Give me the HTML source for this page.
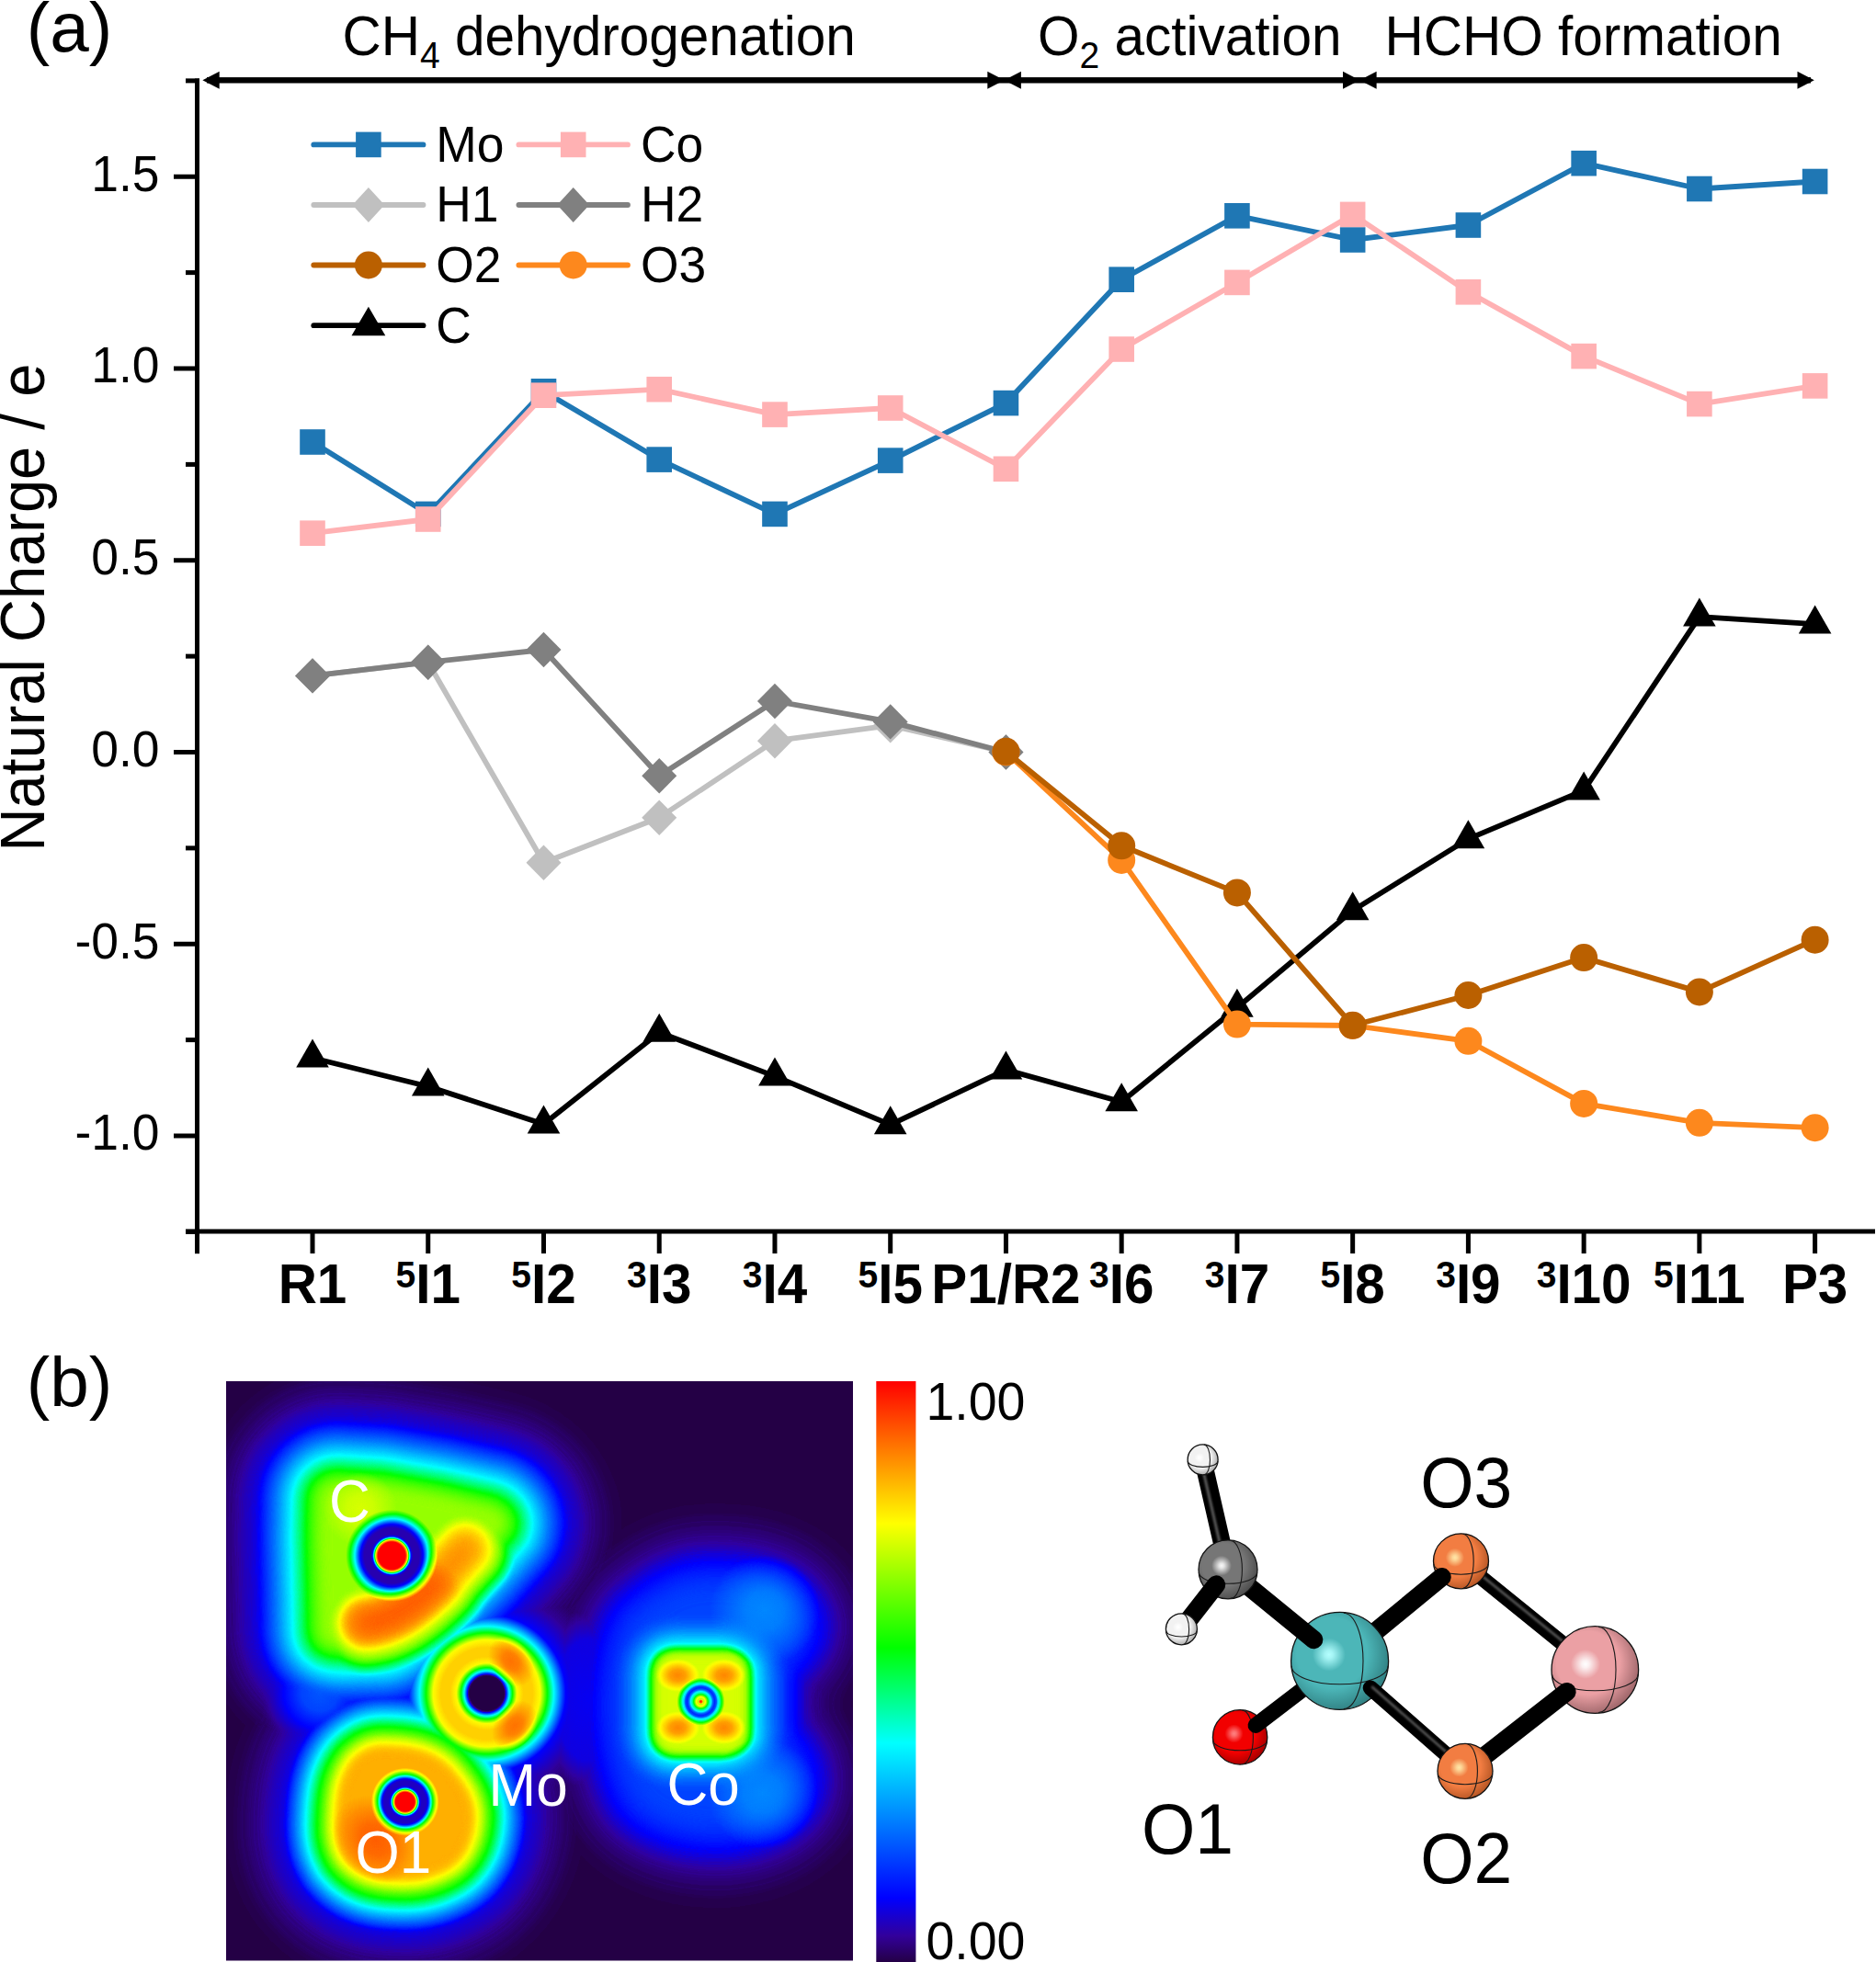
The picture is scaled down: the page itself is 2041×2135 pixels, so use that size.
<!DOCTYPE html>
<html><head><meta charset="utf-8"><style>
html,body{margin:0;padding:0;background:#fff;}
svg{display:block;}
text{font-family:"Liberation Sans", sans-serif;}
</style></head><body>
<svg width="2041" height="2135" viewBox="0 0 2041 2135" font-family='"Liberation Sans", sans-serif'>
<text y="55.5" x="28.7" font-size="76.5">(a)</text>
<text transform="translate(372.5,59.5) scale(1,1.04)" font-size="58.5">CH<tspan font-size="39" dy="13.5">4</tspan><tspan dy="-13.5"> dehydrogenation</tspan></text>
<text transform="translate(1129,59.5) scale(1,1.04)" font-size="58.5">O<tspan font-size="39" dy="13.5">2</tspan><tspan dy="-13.5"> activation</tspan></text>
<text transform="translate(1506.5,59.5) scale(1,1.04)" font-size="58.5">HCHO formation</text>
<rect x="225" y="84.10" width="1745" height="6.4" fill="#000"/>
<polygon points="220.4,87.3 238.7,77.85 238.7,96.75" fill="#000"/>
<polygon points="1092.6,87.3 1074.3,77.85 1074.3,96.75" fill="#000"/>
<polygon points="1092.6,87.3 1110.9,77.85 1110.9,96.75" fill="#000"/>
<polygon points="1479.3,87.3 1461.0,77.85 1461.0,96.75" fill="#000"/>
<polygon points="1479.3,87.3 1497.6,77.85 1497.6,96.75" fill="#000"/>
<polygon points="1973.8,87.3 1955.5,77.85 1955.5,96.75" fill="#000"/>
<rect x="212" y="85.2" width="5" height="1279" fill="#000"/>
<rect x="202" y="1337.5" width="1838" height="5" fill="#000"/>
<rect x="202" y="1337.88" width="10" height="5" fill="#000"/>
<rect x="189" y="1233.50" width="23" height="5" fill="#000"/>
<text transform="translate(173.5,1251.40) scale(1,1.04)" font-size="53.4" text-anchor="end">-1.0</text>
<rect x="202" y="1129.12" width="10" height="5" fill="#000"/>
<rect x="189" y="1024.75" width="23" height="5" fill="#000"/>
<text transform="translate(173.5,1042.65) scale(1,1.04)" font-size="53.4" text-anchor="end">-0.5</text>
<rect x="202" y="920.38" width="10" height="5" fill="#000"/>
<rect x="189" y="816.00" width="23" height="5" fill="#000"/>
<text transform="translate(173.5,833.90) scale(1,1.04)" font-size="53.4" text-anchor="end">0.0</text>
<rect x="202" y="711.62" width="10" height="5" fill="#000"/>
<rect x="189" y="607.25" width="23" height="5" fill="#000"/>
<text transform="translate(173.5,625.15) scale(1,1.04)" font-size="53.4" text-anchor="end">0.5</text>
<rect x="202" y="502.88" width="10" height="5" fill="#000"/>
<rect x="189" y="398.50" width="23" height="5" fill="#000"/>
<text transform="translate(173.5,416.40) scale(1,1.04)" font-size="53.4" text-anchor="end">1.0</text>
<rect x="202" y="294.12" width="10" height="5" fill="#000"/>
<rect x="189" y="189.75" width="23" height="5" fill="#000"/>
<text transform="translate(173.5,207.65) scale(1,1.04)" font-size="53.4" text-anchor="end">1.5</text>
<rect x="202" y="85.38" width="10" height="5" fill="#000"/>
<rect x="337.50" y="1340" width="5" height="24" fill="#000"/>
<rect x="463.24" y="1340" width="5" height="24" fill="#000"/>
<rect x="588.98" y="1340" width="5" height="24" fill="#000"/>
<rect x="714.72" y="1340" width="5" height="24" fill="#000"/>
<rect x="840.46" y="1340" width="5" height="24" fill="#000"/>
<rect x="966.20" y="1340" width="5" height="24" fill="#000"/>
<rect x="1091.94" y="1340" width="5" height="24" fill="#000"/>
<rect x="1217.68" y="1340" width="5" height="24" fill="#000"/>
<rect x="1343.42" y="1340" width="5" height="24" fill="#000"/>
<rect x="1469.16" y="1340" width="5" height="24" fill="#000"/>
<rect x="1594.90" y="1340" width="5" height="24" fill="#000"/>
<rect x="1720.64" y="1340" width="5" height="24" fill="#000"/>
<rect x="1846.38" y="1340" width="5" height="24" fill="#000"/>
<rect x="1972.12" y="1340" width="5" height="24" fill="#000"/>
<text transform="translate(340.00,1418) scale(1,1.04)" font-size="58.4" font-weight="bold" text-anchor="middle">R1</text>
<text transform="translate(465.74,1418) scale(1,1.04)" font-size="58.4" font-weight="bold" text-anchor="middle"><tspan font-size="39" dy="-16.6">5</tspan><tspan dy="16.6">I1</tspan></text>
<text transform="translate(591.48,1418) scale(1,1.04)" font-size="58.4" font-weight="bold" text-anchor="middle"><tspan font-size="39" dy="-16.6">5</tspan><tspan dy="16.6">I2</tspan></text>
<text transform="translate(717.22,1418) scale(1,1.04)" font-size="58.4" font-weight="bold" text-anchor="middle"><tspan font-size="39" dy="-16.6">3</tspan><tspan dy="16.6">I3</tspan></text>
<text transform="translate(842.96,1418) scale(1,1.04)" font-size="58.4" font-weight="bold" text-anchor="middle"><tspan font-size="39" dy="-16.6">3</tspan><tspan dy="16.6">I4</tspan></text>
<text transform="translate(968.70,1418) scale(1,1.04)" font-size="58.4" font-weight="bold" text-anchor="middle"><tspan font-size="39" dy="-16.6">5</tspan><tspan dy="16.6">I5</tspan></text>
<text transform="translate(1094.44,1418) scale(1,1.04)" font-size="58.4" font-weight="bold" text-anchor="middle">P1/R2</text>
<text transform="translate(1220.18,1418) scale(1,1.04)" font-size="58.4" font-weight="bold" text-anchor="middle"><tspan font-size="39" dy="-16.6">3</tspan><tspan dy="16.6">I6</tspan></text>
<text transform="translate(1345.92,1418) scale(1,1.04)" font-size="58.4" font-weight="bold" text-anchor="middle"><tspan font-size="39" dy="-16.6">3</tspan><tspan dy="16.6">I7</tspan></text>
<text transform="translate(1471.66,1418) scale(1,1.04)" font-size="58.4" font-weight="bold" text-anchor="middle"><tspan font-size="39" dy="-16.6">5</tspan><tspan dy="16.6">I8</tspan></text>
<text transform="translate(1597.40,1418) scale(1,1.04)" font-size="58.4" font-weight="bold" text-anchor="middle"><tspan font-size="39" dy="-16.6">3</tspan><tspan dy="16.6">I9</tspan></text>
<text transform="translate(1723.14,1418) scale(1,1.04)" font-size="58.4" font-weight="bold" text-anchor="middle"><tspan font-size="39" dy="-16.6">3</tspan><tspan dy="16.6">I10</tspan></text>
<text transform="translate(1848.88,1418) scale(1,1.04)" font-size="58.4" font-weight="bold" text-anchor="middle"><tspan font-size="39" dy="-16.6">5</tspan><tspan dy="16.6">I11</tspan></text>
<text transform="translate(1974.62,1418) scale(1,1.04)" font-size="58.4" font-weight="bold" text-anchor="middle">P3</text>
<text transform="translate(48,926.5) rotate(-90) scale(1,1.04)" font-size="65">Natural Charge / e</text>
<polyline points="340.00,481.00 465.74,559.40 591.48,425.80 717.22,500.10 842.96,559.40 968.70,501.10 1094.44,438.60 1220.18,304.20 1345.92,234.80 1471.66,261.00 1597.40,245.00 1723.14,177.70 1848.88,205.50 1974.62,197.50" fill="none" stroke="#1f77b4" stroke-width="5.8" stroke-linejoin="round"/>
<rect x="326.20" y="467.20" width="27.6" height="27.6" fill="#1f77b4"/>
<rect x="451.94" y="545.60" width="27.6" height="27.6" fill="#1f77b4"/>
<rect x="577.68" y="412.00" width="27.6" height="27.6" fill="#1f77b4"/>
<rect x="703.42" y="486.30" width="27.6" height="27.6" fill="#1f77b4"/>
<rect x="829.16" y="545.60" width="27.6" height="27.6" fill="#1f77b4"/>
<rect x="954.90" y="487.30" width="27.6" height="27.6" fill="#1f77b4"/>
<rect x="1080.64" y="424.80" width="27.6" height="27.6" fill="#1f77b4"/>
<rect x="1206.38" y="290.40" width="27.6" height="27.6" fill="#1f77b4"/>
<rect x="1332.12" y="221.00" width="27.6" height="27.6" fill="#1f77b4"/>
<rect x="1457.86" y="247.20" width="27.6" height="27.6" fill="#1f77b4"/>
<rect x="1583.60" y="231.20" width="27.6" height="27.6" fill="#1f77b4"/>
<rect x="1709.34" y="163.90" width="27.6" height="27.6" fill="#1f77b4"/>
<rect x="1835.08" y="191.70" width="27.6" height="27.6" fill="#1f77b4"/>
<rect x="1960.82" y="183.70" width="27.6" height="27.6" fill="#1f77b4"/>
<polyline points="340.00,580.20 465.74,565.00 591.48,430.20 717.22,423.70 842.96,451.10 968.70,444.00 1094.44,510.30 1220.18,380.00 1345.92,307.40 1471.66,233.40 1597.40,317.80 1723.14,387.60 1848.88,439.60 1974.62,419.90" fill="none" stroke="#ffb1b3" stroke-width="5.8" stroke-linejoin="round"/>
<rect x="326.20" y="566.40" width="27.6" height="27.6" fill="#ffb1b3"/>
<rect x="451.94" y="551.20" width="27.6" height="27.6" fill="#ffb1b3"/>
<rect x="577.68" y="416.40" width="27.6" height="27.6" fill="#ffb1b3"/>
<rect x="703.42" y="409.90" width="27.6" height="27.6" fill="#ffb1b3"/>
<rect x="829.16" y="437.30" width="27.6" height="27.6" fill="#ffb1b3"/>
<rect x="954.90" y="430.20" width="27.6" height="27.6" fill="#ffb1b3"/>
<rect x="1080.64" y="496.50" width="27.6" height="27.6" fill="#ffb1b3"/>
<rect x="1206.38" y="366.20" width="27.6" height="27.6" fill="#ffb1b3"/>
<rect x="1332.12" y="293.60" width="27.6" height="27.6" fill="#ffb1b3"/>
<rect x="1457.86" y="219.60" width="27.6" height="27.6" fill="#ffb1b3"/>
<rect x="1583.60" y="304.00" width="27.6" height="27.6" fill="#ffb1b3"/>
<rect x="1709.34" y="373.80" width="27.6" height="27.6" fill="#ffb1b3"/>
<rect x="1835.08" y="425.80" width="27.6" height="27.6" fill="#ffb1b3"/>
<rect x="1960.82" y="406.10" width="27.6" height="27.6" fill="#ffb1b3"/>
<polyline points="340.00,735.40 465.74,720.70 591.48,938.70 717.22,889.70 842.96,806.20 968.70,789.40 1094.44,818.50" fill="none" stroke="#c0c0c0" stroke-width="5.8" stroke-linejoin="round"/>
<polygon points="340.00,716.20 359.00,735.40 340.00,754.60 321.00,735.40" fill="#c0c0c0"/>
<polygon points="465.74,701.50 484.74,720.70 465.74,739.90 446.74,720.70" fill="#c0c0c0"/>
<polygon points="591.48,919.50 610.48,938.70 591.48,957.90 572.48,938.70" fill="#c0c0c0"/>
<polygon points="717.22,870.50 736.22,889.70 717.22,908.90 698.22,889.70" fill="#c0c0c0"/>
<polygon points="842.96,787.00 861.96,806.20 842.96,825.40 823.96,806.20" fill="#c0c0c0"/>
<polygon points="968.70,770.20 987.70,789.40 968.70,808.60 949.70,789.40" fill="#c0c0c0"/>
<polygon points="1094.44,799.30 1113.44,818.50 1094.44,837.70 1075.44,818.50" fill="#c0c0c0"/>
<polyline points="340.00,735.40 465.74,720.70 591.48,707.00 717.22,844.20 842.96,763.00 968.70,785.40 1094.44,818.50" fill="none" stroke="#808080" stroke-width="5.8" stroke-linejoin="round"/>
<polygon points="340.00,716.20 359.00,735.40 340.00,754.60 321.00,735.40" fill="#808080"/>
<polygon points="465.74,701.50 484.74,720.70 465.74,739.90 446.74,720.70" fill="#808080"/>
<polygon points="591.48,687.80 610.48,707.00 591.48,726.20 572.48,707.00" fill="#808080"/>
<polygon points="717.22,825.00 736.22,844.20 717.22,863.40 698.22,844.20" fill="#808080"/>
<polygon points="842.96,743.80 861.96,763.00 842.96,782.20 823.96,763.00" fill="#808080"/>
<polygon points="968.70,766.20 987.70,785.40 968.70,804.60 949.70,785.40" fill="#808080"/>
<polygon points="1094.44,799.30 1113.44,818.50 1094.44,837.70 1075.44,818.50" fill="#808080"/>
<polyline points="340.00,1151.20 465.74,1182.20 591.48,1223.20 717.22,1123.50 842.96,1171.10 968.70,1223.90 1094.44,1164.10 1220.18,1199.00 1345.92,1096.40 1471.66,990.90 1597.40,912.90 1723.14,860.10 1848.88,671.10 1974.62,679.20" fill="none" stroke="#000000" stroke-width="5.8" stroke-linejoin="round"/>
<polygon points="340.00,1130.53 357.80,1161.53 322.20,1161.53" fill="#000000"/>
<polygon points="465.74,1161.53 483.54,1192.53 447.94,1192.53" fill="#000000"/>
<polygon points="591.48,1202.53 609.28,1233.53 573.68,1233.53" fill="#000000"/>
<polygon points="717.22,1102.83 735.02,1133.83 699.42,1133.83" fill="#000000"/>
<polygon points="842.96,1150.43 860.76,1181.43 825.16,1181.43" fill="#000000"/>
<polygon points="968.70,1203.23 986.50,1234.23 950.90,1234.23" fill="#000000"/>
<polygon points="1094.44,1143.43 1112.24,1174.43 1076.64,1174.43" fill="#000000"/>
<polygon points="1220.18,1178.33 1237.98,1209.33 1202.38,1209.33" fill="#000000"/>
<polygon points="1345.92,1075.73 1363.72,1106.73 1328.12,1106.73" fill="#000000"/>
<polygon points="1471.66,970.23 1489.46,1001.23 1453.86,1001.23" fill="#000000"/>
<polygon points="1597.40,892.23 1615.20,923.23 1579.60,923.23" fill="#000000"/>
<polygon points="1723.14,839.43 1740.94,870.43 1705.34,870.43" fill="#000000"/>
<polygon points="1848.88,650.43 1866.68,681.43 1831.08,681.43" fill="#000000"/>
<polygon points="1974.62,658.53 1992.42,689.53 1956.82,689.53" fill="#000000"/>
<polyline points="1094.44,818.50 1220.18,935.90 1345.92,1114.60 1471.66,1116.00 1597.40,1132.80 1723.14,1200.90 1848.88,1221.80 1974.62,1227.20" fill="none" stroke="#fd881d" stroke-width="5.8" stroke-linejoin="round"/>
<circle cx="1094.44" cy="818.50" r="15" fill="#fd881d"/>
<circle cx="1220.18" cy="935.90" r="15" fill="#fd881d"/>
<circle cx="1345.92" cy="1114.60" r="15" fill="#fd881d"/>
<circle cx="1471.66" cy="1116.00" r="15" fill="#fd881d"/>
<circle cx="1597.40" cy="1132.80" r="15" fill="#fd881d"/>
<circle cx="1723.14" cy="1200.90" r="15" fill="#fd881d"/>
<circle cx="1848.88" cy="1221.80" r="15" fill="#fd881d"/>
<circle cx="1974.62" cy="1227.20" r="15" fill="#fd881d"/>
<polyline points="1094.44,817.80 1220.18,920.30 1345.92,971.40 1471.66,1115.80 1597.40,1083.00 1723.14,1042.10 1848.88,1079.40 1974.62,1022.70" fill="none" stroke="#ba6000" stroke-width="5.8" stroke-linejoin="round"/>
<circle cx="1094.44" cy="817.80" r="15" fill="#ba6000"/>
<circle cx="1220.18" cy="920.30" r="15" fill="#ba6000"/>
<circle cx="1345.92" cy="971.40" r="15" fill="#ba6000"/>
<circle cx="1471.66" cy="1115.80" r="15" fill="#ba6000"/>
<circle cx="1597.40" cy="1083.00" r="15" fill="#ba6000"/>
<circle cx="1723.14" cy="1042.10" r="15" fill="#ba6000"/>
<circle cx="1848.88" cy="1079.40" r="15" fill="#ba6000"/>
<circle cx="1974.62" cy="1022.70" r="15" fill="#ba6000"/>
<line x1="341.29999999999995" y1="157.4" x2="460.5" y2="157.4" stroke="#1f77b4" stroke-width="5.8" stroke-linecap="round"/>
<rect x="387.1" y="143.6" width="27.6" height="27.6" fill="#1f77b4"/>
<text transform="translate(474.3,175.8) scale(1,1.04)" font-size="53.4">Mo</text>
<line x1="564.4" y1="157.4" x2="683.0" y2="157.4" stroke="#ffb1b3" stroke-width="5.8" stroke-linecap="round"/>
<rect x="609.9" y="143.6" width="27.6" height="27.6" fill="#ffb1b3"/>
<text transform="translate(697,175.8) scale(1,1.04)" font-size="53.4">Co</text>
<line x1="341.29999999999995" y1="223.0" x2="460.5" y2="223.0" stroke="#c0c0c0" stroke-width="5.8" stroke-linecap="round"/>
<polygon points="400.9,204.1 418.4,223.0 400.9,241.9 383.4,223.0" fill="#c0c0c0"/>
<text transform="translate(474.3,241.4) scale(1,1.04)" font-size="53.4">H1</text>
<line x1="564.4" y1="223.0" x2="683.0" y2="223.0" stroke="#808080" stroke-width="5.8" stroke-linecap="round"/>
<polygon points="623.7,204.1 641.2,223.0 623.7,241.9 606.2,223.0" fill="#808080"/>
<text transform="translate(697,241.4) scale(1,1.04)" font-size="53.4">H2</text>
<line x1="341.29999999999995" y1="288.5" x2="460.5" y2="288.5" stroke="#ba6000" stroke-width="5.8" stroke-linecap="round"/>
<circle cx="400.9" cy="288.5" r="15" fill="#ba6000"/>
<text transform="translate(474.3,306.9) scale(1,1.04)" font-size="53.4">O2</text>
<line x1="564.4" y1="288.5" x2="683.0" y2="288.5" stroke="#fd881d" stroke-width="5.8" stroke-linecap="round"/>
<circle cx="623.7" cy="288.5" r="15" fill="#fd881d"/>
<text transform="translate(697,306.9) scale(1,1.04)" font-size="53.4">O3</text>
<line x1="341.29999999999995" y1="354.2" x2="460.5" y2="354.2" stroke="#000000" stroke-width="5.8" stroke-linecap="round"/>
<polygon points="400.9,333.8 419.29999999999995,365.2 382.5,365.2" fill="#000"/>
<text transform="translate(474.3,372.6) scale(1,1.04)" font-size="53.4">C</text>
<text y="1530" x="28.7" font-size="76.5">(b)</text>
<defs><linearGradient id="cb" x1="0" y1="1" x2="0" y2="0">
<stop offset="0.0" stop-color="rgb(36, 0, 70)"/>
<stop offset="0.045" stop-color="rgb(50, 0, 155)"/>
<stop offset="0.11" stop-color="rgb(0, 0, 255)"/>
<stop offset="0.377" stop-color="rgb(0, 255, 255)"/>
<stop offset="0.541" stop-color="rgb(0, 255, 0)"/>
<stop offset="0.755" stop-color="rgb(255, 255, 0)"/>
<stop offset="1.0" stop-color="rgb(255, 0, 0)"/>
</linearGradient></defs>
<rect x="953.3" y="1503" width="43.1" height="632" fill="url(#cb)"/>
<text transform="translate(1007.4,1545.2) scale(1,1.04)" font-size="55.5">1.00</text>
<text transform="translate(1007.4,2132.4) scale(1,1.04)" font-size="55.5">0.00</text>
<clipPath id="hmclip"><rect x="246" y="1503" width="682" height="630.5"/></clipPath>
<g clip-path="url(#hmclip)"><g filter="url(#cm)">
<rect x="196" y="1453" width="782" height="730.5" fill="#000"/>
<g style="isolation:isolate">
<path d="M763.8,1718.9 C820.1,1716.4 862.1,1729.0 873.0,1762.6 C878.9,1787.8 853.7,1804.6 843.6,1818.9 C835.2,1834.0 832.7,1846.6 833.5,1851.6 C833.5,1863.4 841.1,1876.0 845.3,1888.6 C862.1,1909.6 872.2,1922.2 869.6,1943.2 C866.3,1968.4 836.9,1989.4 786.5,1993.6 C736.1,1995.3 694.1,1976.8 683.2,1949.9 C668.9,1918.0 663.8,1876.0 665.5,1846.6 C667.2,1800.4 677.3,1762.6 695.8,1750.8 C715.1,1734.9 736.1,1720.6 763.8,1718.9 Z" fill="rgb(4,4,4)" stroke="rgb(4,4,4)" stroke-width="136.67" stroke-linejoin="round" stroke-linecap="round" filter="url(#u13_0)" style="mix-blend-mode:lighten"/>
<path d="M763.8,1718.9 C820.1,1716.4 862.1,1729.0 873.0,1762.6 C878.9,1787.8 853.7,1804.6 843.6,1818.9 C835.2,1834.0 832.7,1846.6 833.5,1851.6 C833.5,1863.4 841.1,1876.0 845.3,1888.6 C862.1,1909.6 872.2,1922.2 869.6,1943.2 C866.3,1968.4 836.9,1989.4 786.5,1993.6 C736.1,1995.3 694.1,1976.8 683.2,1949.9 C668.9,1918.0 663.8,1876.0 665.5,1846.6 C667.2,1800.4 677.3,1762.6 695.8,1750.8 C715.1,1734.9 736.1,1720.6 763.8,1718.9 Z" fill="rgb(8,8,8)" stroke="rgb(8,8,8)" stroke-width="113.33" stroke-linejoin="round" stroke-linecap="round" filter="url(#u15_0)" style="mix-blend-mode:lighten"/>
<path d="M763.8,1718.9 C820.1,1716.4 862.1,1729.0 873.0,1762.6 C878.9,1787.8 853.7,1804.6 843.6,1818.9 C835.2,1834.0 832.7,1846.6 833.5,1851.6 C833.5,1863.4 841.1,1876.0 845.3,1888.6 C862.1,1909.6 872.2,1922.2 869.6,1943.2 C866.3,1968.4 836.9,1989.4 786.5,1993.6 C736.1,1995.3 694.1,1976.8 683.2,1949.9 C668.9,1918.0 663.8,1876.0 665.5,1846.6 C667.2,1800.4 677.3,1762.6 695.8,1750.8 C715.1,1734.9 736.1,1720.6 763.8,1718.9 Z" fill="rgb(13,13,13)" stroke="rgb(13,13,13)" stroke-width="86.15" stroke-linejoin="round" stroke-linecap="round" filter="url(#u13_0)" style="mix-blend-mode:lighten"/>
<path d="M763.8,1718.9 C820.1,1716.4 862.1,1729.0 873.0,1762.6 C878.9,1787.8 853.7,1804.6 843.6,1818.9 C835.2,1834.0 832.7,1846.6 833.5,1851.6 C833.5,1863.4 841.1,1876.0 845.3,1888.6 C862.1,1909.6 872.2,1922.2 869.6,1943.2 C866.3,1968.4 836.9,1989.4 786.5,1993.6 C736.1,1995.3 694.1,1976.8 683.2,1949.9 C668.9,1918.0 663.8,1876.0 665.5,1846.6 C667.2,1800.4 677.3,1762.6 695.8,1750.8 C715.1,1734.9 736.1,1720.6 763.8,1718.9 Z" fill="rgb(18,18,18)" stroke="rgb(18,18,18)" stroke-width="70.77" stroke-linejoin="round" stroke-linecap="round" filter="url(#u9_0)" style="mix-blend-mode:lighten"/>
<path d="M763.8,1718.9 C820.1,1716.4 862.1,1729.0 873.0,1762.6 C878.9,1787.8 853.7,1804.6 843.6,1818.9 C835.2,1834.0 832.7,1846.6 833.5,1851.6 C833.5,1863.4 841.1,1876.0 845.3,1888.6 C862.1,1909.6 872.2,1922.2 869.6,1943.2 C866.3,1968.4 836.9,1989.4 786.5,1993.6 C736.1,1995.3 694.1,1976.8 683.2,1949.9 C668.9,1918.0 663.8,1876.0 665.5,1846.6 C667.2,1800.4 677.3,1762.6 695.8,1750.8 C715.1,1734.9 736.1,1720.6 763.8,1718.9 Z" fill="rgb(23,23,23)" stroke="rgb(23,23,23)" stroke-width="55.38" stroke-linejoin="round" stroke-linecap="round" filter="url(#u9_0)" style="mix-blend-mode:lighten"/>
<path d="M763.8,1718.9 C820.1,1716.4 862.1,1729.0 873.0,1762.6 C878.9,1787.8 853.7,1804.6 843.6,1818.9 C835.2,1834.0 832.7,1846.6 833.5,1851.6 C833.5,1863.4 841.1,1876.0 845.3,1888.6 C862.1,1909.6 872.2,1922.2 869.6,1943.2 C866.3,1968.4 836.9,1989.4 786.5,1993.6 C736.1,1995.3 694.1,1976.8 683.2,1949.9 C668.9,1918.0 663.8,1876.0 665.5,1846.6 C667.2,1800.4 677.3,1762.6 695.8,1750.8 C715.1,1734.9 736.1,1720.6 763.8,1718.9 Z" fill="rgb(28,28,28)" stroke="rgb(28,28,28)" stroke-width="40.00" stroke-linejoin="round" stroke-linecap="round" filter="url(#u10_0)" style="mix-blend-mode:lighten"/>
<path d="M763.8,1718.9 C820.1,1716.4 862.1,1729.0 873.0,1762.6 C878.9,1787.8 853.7,1804.6 843.6,1818.9 C835.2,1834.0 832.7,1846.6 833.5,1851.6 C833.5,1863.4 841.1,1876.0 845.3,1888.6 C862.1,1909.6 872.2,1922.2 869.6,1943.2 C866.3,1968.4 836.9,1989.4 786.5,1993.6 C736.1,1995.3 694.1,1976.8 683.2,1949.9 C668.9,1918.0 663.8,1876.0 665.5,1846.6 C667.2,1800.4 677.3,1762.6 695.8,1750.8 C715.1,1734.9 736.1,1720.6 763.8,1718.9 Z" fill="rgb(36,36,36)" stroke="rgb(36,36,36)" stroke-width="22.86" stroke-linejoin="round" stroke-linecap="round" filter="url(#u12_0)" style="mix-blend-mode:lighten"/>
<path d="M763.8,1718.9 C820.1,1716.4 862.1,1729.0 873.0,1762.6 C878.9,1787.8 853.7,1804.6 843.6,1818.9 C835.2,1834.0 832.7,1846.6 833.5,1851.6 C833.5,1863.4 841.1,1876.0 845.3,1888.6 C862.1,1909.6 872.2,1922.2 869.6,1943.2 C866.3,1968.4 836.9,1989.4 786.5,1993.6 C736.1,1995.3 694.1,1976.8 683.2,1949.9 C668.9,1918.0 663.8,1876.0 665.5,1846.6 C667.2,1800.4 677.3,1762.6 695.8,1750.8 C715.1,1734.9 736.1,1720.6 763.8,1718.9 Z" fill="rgb(46,46,46)" filter="url(#u13_5)" style="mix-blend-mode:lighten"/>
<path d="M738,1802 L787,1802 Q809,1802 809,1824 L809,1882 Q809,1904 787,1904 L738,1904 Q716,1904 716,1882 L716,1824 Q716,1802 738,1802 Z" fill="rgb(4,4,4)" stroke="rgb(4,4,4)" stroke-width="185.00" stroke-linejoin="round" stroke-linecap="round" filter="url(#u9_0)" style="mix-blend-mode:lighten"/>
<path d="M738,1802 L787,1802 Q809,1802 809,1824 L809,1882 Q809,1904 787,1904 L738,1904 Q716,1904 716,1882 L716,1824 Q716,1802 738,1802 Z" fill="rgb(8,8,8)" stroke="rgb(8,8,8)" stroke-width="170.00" stroke-linejoin="round" stroke-linecap="round" filter="url(#u9_0)" style="mix-blend-mode:lighten"/>
<path d="M738,1802 L787,1802 Q809,1802 809,1824 L809,1882 Q809,1904 787,1904 L738,1904 Q716,1904 716,1882 L716,1824 Q716,1802 738,1802 Z" fill="rgb(13,13,13)" stroke="rgb(13,13,13)" stroke-width="150.00" stroke-linejoin="round" stroke-linecap="round" filter="url(#u8_5)" style="mix-blend-mode:lighten"/>
<path d="M738,1802 L787,1802 Q809,1802 809,1824 L809,1882 Q809,1904 787,1904 L738,1904 Q716,1904 716,1882 L716,1824 Q716,1802 738,1802 Z" fill="rgb(18,18,18)" stroke="rgb(18,18,18)" stroke-width="135.45" stroke-linejoin="round" stroke-linecap="round" filter="url(#u6_0)" style="mix-blend-mode:lighten"/>
<path d="M738,1802 L787,1802 Q809,1802 809,1824 L809,1882 Q809,1904 787,1904 L738,1904 Q716,1904 716,1882 L716,1824 Q716,1802 738,1802 Z" fill="rgb(23,23,23)" stroke="rgb(23,23,23)" stroke-width="126.36" stroke-linejoin="round" stroke-linecap="round" filter="url(#u4_5)" style="mix-blend-mode:lighten"/>
<path d="M738,1802 L787,1802 Q809,1802 809,1824 L809,1882 Q809,1904 787,1904 L738,1904 Q716,1904 716,1882 L716,1824 Q716,1802 738,1802 Z" fill="rgb(28,28,28)" stroke="rgb(28,28,28)" stroke-width="117.27" stroke-linejoin="round" stroke-linecap="round" filter="url(#u5_5)" style="mix-blend-mode:lighten"/>
<path d="M738,1802 L787,1802 Q809,1802 809,1824 L809,1882 Q809,1904 787,1904 L738,1904 Q716,1904 716,1882 L716,1824 Q716,1802 738,1802 Z" fill="rgb(36,36,36)" stroke="rgb(36,36,36)" stroke-width="103.64" stroke-linejoin="round" stroke-linecap="round" filter="url(#u7_0)" style="mix-blend-mode:lighten"/>
<path d="M738,1802 L787,1802 Q809,1802 809,1824 L809,1882 Q809,1904 787,1904 L738,1904 Q716,1904 716,1882 L716,1824 Q716,1802 738,1802 Z" fill="rgb(43,43,43)" stroke="rgb(43,43,43)" stroke-width="90.00" stroke-linejoin="round" stroke-linecap="round" filter="url(#u6_0)" style="mix-blend-mode:lighten"/>
<path d="M738,1802 L787,1802 Q809,1802 809,1824 L809,1882 Q809,1904 787,1904 L738,1904 Q716,1904 716,1882 L716,1824 Q716,1802 738,1802 Z" fill="rgb(51,51,51)" stroke="rgb(51,51,51)" stroke-width="79.80" stroke-linejoin="round" stroke-linecap="round" filter="url(#u6_0)" style="mix-blend-mode:lighten"/>
<path d="M738,1802 L787,1802 Q809,1802 809,1824 L809,1882 Q809,1904 787,1904 L738,1904 Q716,1904 716,1882 L716,1824 Q716,1802 738,1802 Z" fill="rgb(61,61,61)" stroke="rgb(61,61,61)" stroke-width="66.20" stroke-linejoin="round" stroke-linecap="round" filter="url(#u6_5)" style="mix-blend-mode:lighten"/>
<path d="M738,1802 L787,1802 Q809,1802 809,1824 L809,1882 Q809,1904 787,1904 L738,1904 Q716,1904 716,1882 L716,1824 Q716,1802 738,1802 Z" fill="rgb(71,71,71)" stroke="rgb(71,71,71)" stroke-width="53.38" stroke-linejoin="round" stroke-linecap="round" filter="url(#u6_0)" style="mix-blend-mode:lighten"/>
<path d="M738,1802 L787,1802 Q809,1802 809,1824 L809,1882 Q809,1904 787,1904 L738,1904 Q716,1904 716,1882 L716,1824 Q716,1802 738,1802 Z" fill="rgb(82,82,82)" stroke="rgb(82,82,82)" stroke-width="42.92" stroke-linejoin="round" stroke-linecap="round" filter="url(#u5_0)" style="mix-blend-mode:lighten"/>
<path d="M738,1802 L787,1802 Q809,1802 809,1824 L809,1882 Q809,1904 787,1904 L738,1904 Q716,1904 716,1882 L716,1824 Q716,1802 738,1802 Z" fill="rgb(92,92,92)" stroke="rgb(92,92,92)" stroke-width="32.45" stroke-linejoin="round" stroke-linecap="round" filter="url(#u4_0)" style="mix-blend-mode:lighten"/>
<path d="M738,1802 L787,1802 Q809,1802 809,1824 L809,1882 Q809,1904 787,1904 L738,1904 Q716,1904 716,1882 L716,1824 Q716,1802 738,1802 Z" fill="rgb(102,102,102)" stroke="rgb(102,102,102)" stroke-width="26.31" stroke-linejoin="round" stroke-linecap="round" filter="url(#u2_5)" style="mix-blend-mode:lighten"/>
<path d="M738,1802 L787,1802 Q809,1802 809,1824 L809,1882 Q809,1904 787,1904 L738,1904 Q716,1904 716,1882 L716,1824 Q716,1802 738,1802 Z" fill="rgb(112,112,112)" stroke="rgb(112,112,112)" stroke-width="23.36" stroke-linejoin="round" stroke-linecap="round" filter="url(#u1_5)" style="mix-blend-mode:lighten"/>
<path d="M738,1802 L787,1802 Q809,1802 809,1824 L809,1882 Q809,1904 787,1904 L738,1904 Q716,1904 716,1882 L716,1824 Q716,1802 738,1802 Z" fill="rgb(122,122,122)" stroke="rgb(122,122,122)" stroke-width="20.42" stroke-linejoin="round" stroke-linecap="round" filter="url(#u1_5)" style="mix-blend-mode:lighten"/>
<path d="M738,1802 L787,1802 Q809,1802 809,1824 L809,1882 Q809,1904 787,1904 L738,1904 Q716,1904 716,1882 L716,1824 Q716,1802 738,1802 Z" fill="rgb(133,133,133)" stroke="rgb(133,133,133)" stroke-width="17.47" stroke-linejoin="round" stroke-linecap="round" filter="url(#u1_5)" style="mix-blend-mode:lighten"/>
<path d="M738,1802 L787,1802 Q809,1802 809,1824 L809,1882 Q809,1904 787,1904 L738,1904 Q716,1904 716,1882 L716,1824 Q716,1802 738,1802 Z" fill="rgb(143,143,143)" stroke="rgb(143,143,143)" stroke-width="14.22" stroke-linejoin="round" stroke-linecap="round" filter="url(#u1_5)" style="mix-blend-mode:lighten"/>
<path d="M738,1802 L787,1802 Q809,1802 809,1824 L809,1882 Q809,1904 787,1904 L738,1904 Q716,1904 716,1882 L716,1824 Q716,1802 738,1802 Z" fill="rgb(153,153,153)" stroke="rgb(153,153,153)" stroke-width="10.67" stroke-linejoin="round" stroke-linecap="round" filter="url(#u2_0)" style="mix-blend-mode:lighten"/>
<path d="M738,1802 L787,1802 Q809,1802 809,1824 L809,1882 Q809,1904 787,1904 L738,1904 Q716,1904 716,1882 L716,1824 Q716,1802 738,1802 Z" fill="rgb(163,163,163)" stroke="rgb(163,163,163)" stroke-width="7.11" stroke-linejoin="round" stroke-linecap="round" filter="url(#u2_0)" style="mix-blend-mode:lighten"/>
<path d="M738,1802 L787,1802 Q809,1802 809,1824 L809,1882 Q809,1904 787,1904 L738,1904 Q716,1904 716,1882 L716,1824 Q716,1802 738,1802 Z" fill="rgb(173,173,173)" stroke="rgb(173,173,173)" stroke-width="3.56" stroke-linejoin="round" stroke-linecap="round" filter="url(#u2_0)" style="mix-blend-mode:lighten"/>
<path d="M738,1802 L787,1802 Q809,1802 809,1824 L809,1882 Q809,1904 787,1904 L738,1904 Q716,1904 716,1882 L716,1824 Q716,1802 738,1802 Z" fill="rgb(184,184,184)" filter="url(#u5_0)" style="mix-blend-mode:lighten"/>
<defs><radialGradient id="rg1" gradientUnits="userSpaceOnUse" cx="348" cy="1842" r="70"><stop offset="0.0000" stop-color="rgb(51,51,51)" stop-opacity="1"/><stop offset="0.2857" stop-color="rgb(46,46,46)" stop-opacity="1"/><stop offset="0.6429" stop-color="rgb(23,23,23)" stop-opacity="1"/><stop offset="1.0000" stop-color="rgb(0,0,0)" stop-opacity="1"/></radialGradient></defs>
<circle cx="348" cy="1842" r="70" fill="url(#rg1)" style="mix-blend-mode:lighten"/>
<path d="M345,1672 L346,1632 C347,1620 354,1612 368,1612 L415,1615 L478,1626 L530,1638 C545,1641 555,1652 549,1665 L513,1706 L471,1748 L435,1782 C428,1788 422,1791 412,1791 L374,1792 C356,1792 348,1787 347,1773 Z" fill="rgb(4,4,4)" stroke="rgb(4,4,4)" stroke-width="228.00" stroke-linejoin="round" stroke-linecap="round" filter="url(#u10_5)" style="mix-blend-mode:lighten"/>
<path d="M345,1672 L346,1632 C347,1620 354,1612 368,1612 L415,1615 L478,1626 L530,1638 C545,1641 555,1652 549,1665 L513,1706 L471,1748 L435,1782 C428,1788 422,1791 412,1791 L374,1792 C356,1792 348,1787 347,1773 Z" fill="rgb(8,8,8)" stroke="rgb(8,8,8)" stroke-width="206.00" stroke-linejoin="round" stroke-linecap="round" filter="url(#u12_0)" style="mix-blend-mode:lighten"/>
<path d="M345,1672 L346,1632 C347,1620 354,1612 368,1612 L415,1615 L478,1626 L530,1638 C545,1641 555,1652 549,1665 L513,1706 L471,1748 L435,1782 C428,1788 422,1791 412,1791 L374,1792 C356,1792 348,1787 347,1773 Z" fill="rgb(13,13,13)" stroke="rgb(13,13,13)" stroke-width="179.85" stroke-linejoin="round" stroke-linecap="round" filter="url(#u10_5)" style="mix-blend-mode:lighten"/>
<path d="M345,1672 L346,1632 C347,1620 354,1612 368,1612 L415,1615 L478,1626 L530,1638 C545,1641 555,1652 549,1665 L513,1706 L471,1748 L435,1782 C428,1788 422,1791 412,1791 L374,1792 C356,1792 348,1787 347,1773 Z" fill="rgb(18,18,18)" stroke="rgb(18,18,18)" stroke-width="163.23" stroke-linejoin="round" stroke-linecap="round" filter="url(#u8_5)" style="mix-blend-mode:lighten"/>
<path d="M345,1672 L346,1632 C347,1620 354,1612 368,1612 L415,1615 L478,1626 L530,1638 C545,1641 555,1652 549,1665 L513,1706 L471,1748 L435,1782 C428,1788 422,1791 412,1791 L374,1792 C356,1792 348,1787 347,1773 Z" fill="rgb(23,23,23)" stroke="rgb(23,23,23)" stroke-width="146.62" stroke-linejoin="round" stroke-linecap="round" filter="url(#u8_5)" style="mix-blend-mode:lighten"/>
<path d="M345,1672 L346,1632 C347,1620 354,1612 368,1612 L415,1615 L478,1626 L530,1638 C545,1641 555,1652 549,1665 L513,1706 L471,1748 L435,1782 C428,1788 422,1791 412,1791 L374,1792 C356,1792 348,1787 347,1773 Z" fill="rgb(28,28,28)" stroke="rgb(28,28,28)" stroke-width="130.00" stroke-linejoin="round" stroke-linecap="round" filter="url(#u6_0)" style="mix-blend-mode:lighten"/>
<path d="M345,1672 L346,1632 C347,1620 354,1612 368,1612 L415,1615 L478,1626 L530,1638 C545,1641 555,1652 549,1665 L513,1706 L471,1748 L435,1782 C428,1788 422,1791 412,1791 L374,1792 C356,1792 348,1787 347,1773 Z" fill="rgb(36,36,36)" stroke="rgb(36,36,36)" stroke-width="122.13" stroke-linejoin="round" stroke-linecap="round" filter="url(#u4_0)" style="mix-blend-mode:lighten"/>
<path d="M345,1672 L346,1632 C347,1620 354,1612 368,1612 L415,1615 L478,1626 L530,1638 C545,1641 555,1652 549,1665 L513,1706 L471,1748 L435,1782 C428,1788 422,1791 412,1791 L374,1792 C356,1792 348,1787 347,1773 Z" fill="rgb(43,43,43)" stroke="rgb(43,43,43)" stroke-width="114.27" stroke-linejoin="round" stroke-linecap="round" filter="url(#u4_0)" style="mix-blend-mode:lighten"/>
<path d="M345,1672 L346,1632 C347,1620 354,1612 368,1612 L415,1615 L478,1626 L530,1638 C545,1641 555,1652 549,1665 L513,1706 L471,1748 L435,1782 C428,1788 422,1791 412,1791 L374,1792 C356,1792 348,1787 347,1773 Z" fill="rgb(51,51,51)" stroke="rgb(51,51,51)" stroke-width="106.40" stroke-linejoin="round" stroke-linecap="round" filter="url(#u4_5)" style="mix-blend-mode:lighten"/>
<path d="M345,1672 L346,1632 C347,1620 354,1612 368,1612 L415,1615 L478,1626 L530,1638 C545,1641 555,1652 549,1665 L513,1706 L471,1748 L435,1782 C428,1788 422,1791 412,1791 L374,1792 C356,1792 348,1787 347,1773 Z" fill="rgb(61,61,61)" stroke="rgb(61,61,61)" stroke-width="95.92" stroke-linejoin="round" stroke-linecap="round" filter="url(#u5_0)" style="mix-blend-mode:lighten"/>
<path d="M345,1672 L346,1632 C347,1620 354,1612 368,1612 L415,1615 L478,1626 L530,1638 C545,1641 555,1652 549,1665 L513,1706 L471,1748 L435,1782 C428,1788 422,1791 412,1791 L374,1792 C356,1792 348,1787 347,1773 Z" fill="rgb(71,71,71)" stroke="rgb(71,71,71)" stroke-width="85.43" stroke-linejoin="round" stroke-linecap="round" filter="url(#u5_0)" style="mix-blend-mode:lighten"/>
<path d="M345,1672 L346,1632 C347,1620 354,1612 368,1612 L415,1615 L478,1626 L530,1638 C545,1641 555,1652 549,1665 L513,1706 L471,1748 L435,1782 C428,1788 422,1791 412,1791 L374,1792 C356,1792 348,1787 347,1773 Z" fill="rgb(82,82,82)" stroke="rgb(82,82,82)" stroke-width="74.94" stroke-linejoin="round" stroke-linecap="round" filter="url(#u5_0)" style="mix-blend-mode:lighten"/>
<path d="M345,1672 L346,1632 C347,1620 354,1612 368,1612 L415,1615 L478,1626 L530,1638 C545,1641 555,1652 549,1665 L513,1706 L471,1748 L435,1782 C428,1788 422,1791 412,1791 L374,1792 C356,1792 348,1787 347,1773 Z" fill="rgb(92,92,92)" stroke="rgb(92,92,92)" stroke-width="64.46" stroke-linejoin="round" stroke-linecap="round" filter="url(#u5_0)" style="mix-blend-mode:lighten"/>
<path d="M345,1672 L346,1632 C347,1620 354,1612 368,1612 L415,1615 L478,1626 L530,1638 C545,1641 555,1652 549,1665 L513,1706 L471,1748 L435,1782 C428,1788 422,1791 412,1791 L374,1792 C356,1792 348,1787 347,1773 Z" fill="rgb(102,102,102)" stroke="rgb(102,102,102)" stroke-width="55.20" stroke-linejoin="round" stroke-linecap="round" filter="url(#u4_5)" style="mix-blend-mode:lighten"/>
<path d="M345,1672 L346,1632 C347,1620 354,1612 368,1612 L415,1615 L478,1626 L530,1638 C545,1641 555,1652 549,1665 L513,1706 L471,1748 L435,1782 C428,1788 422,1791 412,1791 L374,1792 C356,1792 348,1787 347,1773 Z" fill="rgb(112,112,112)" stroke="rgb(112,112,112)" stroke-width="46.86" stroke-linejoin="round" stroke-linecap="round" filter="url(#u4_0)" style="mix-blend-mode:lighten"/>
<path d="M345,1672 L346,1632 C347,1620 354,1612 368,1612 L415,1615 L478,1626 L530,1638 C545,1641 555,1652 549,1665 L513,1706 L471,1748 L435,1782 C428,1788 422,1791 412,1791 L374,1792 C356,1792 348,1787 347,1773 Z" fill="rgb(122,122,122)" stroke="rgb(122,122,122)" stroke-width="38.52" stroke-linejoin="round" stroke-linecap="round" filter="url(#u4_0)" style="mix-blend-mode:lighten"/>
<path d="M345,1672 L346,1632 C347,1620 354,1612 368,1612 L415,1615 L478,1626 L530,1638 C545,1641 555,1652 549,1665 L513,1706 L471,1748 L435,1782 C428,1788 422,1791 412,1791 L374,1792 C356,1792 348,1787 347,1773 Z" fill="rgb(133,133,133)" stroke="rgb(133,133,133)" stroke-width="30.17" stroke-linejoin="round" stroke-linecap="round" filter="url(#u4_0)" style="mix-blend-mode:lighten"/>
<path d="M345,1672 L346,1632 C347,1620 354,1612 368,1612 L415,1615 L478,1626 L530,1638 C545,1641 555,1652 549,1665 L513,1706 L471,1748 L435,1782 C428,1788 422,1791 412,1791 L374,1792 C356,1792 348,1787 347,1773 Z" fill="rgb(143,143,143)" stroke="rgb(143,143,143)" stroke-width="21.84" stroke-linejoin="round" stroke-linecap="round" filter="url(#u4_0)" style="mix-blend-mode:lighten"/>
<path d="M345,1672 L346,1632 C347,1620 354,1612 368,1612 L415,1615 L478,1626 L530,1638 C545,1641 555,1652 549,1665 L513,1706 L471,1748 L435,1782 C428,1788 422,1791 412,1791 L374,1792 C356,1792 348,1787 347,1773 Z" fill="rgb(153,153,153)" stroke="rgb(153,153,153)" stroke-width="13.52" stroke-linejoin="round" stroke-linecap="round" filter="url(#u5_5)" style="mix-blend-mode:lighten"/>
<path d="M345,1672 L346,1632 C347,1620 354,1612 368,1612 L415,1615 L478,1626 L530,1638 C545,1641 555,1652 549,1665 L513,1706 L471,1748 L435,1782 C428,1788 422,1791 412,1791 L374,1792 C356,1792 348,1787 347,1773 Z" fill="rgb(170,170,170)" filter="url(#u7_0)" style="mix-blend-mode:lighten"/>
<path d="M398,1766 C425,1764 452,1745 474,1721" fill="rgb(4,4,4)" stroke="rgb(4,4,4)" stroke-width="144.67" stroke-linejoin="round" stroke-linecap="round" filter="url(#u5_5)" style="mix-blend-mode:lighten"/>
<path d="M398,1766 C425,1764 452,1745 474,1721" fill="rgb(8,8,8)" stroke="rgb(8,8,8)" stroke-width="143.33" stroke-linejoin="round" stroke-linecap="round" filter="url(#u1_0)" style="mix-blend-mode:lighten"/>
<path d="M398,1766 C425,1764 452,1745 474,1721" fill="rgb(13,13,13)" stroke="rgb(13,13,13)" stroke-width="141.56" stroke-linejoin="round" stroke-linecap="round" filter="url(#u1_0)" style="mix-blend-mode:lighten"/>
<path d="M398,1766 C425,1764 452,1745 474,1721" fill="rgb(18,18,18)" stroke="rgb(18,18,18)" stroke-width="139.78" stroke-linejoin="round" stroke-linecap="round" filter="url(#u1_0)" style="mix-blend-mode:lighten"/>
<path d="M398,1766 C425,1764 452,1745 474,1721" fill="rgb(23,23,23)" stroke="rgb(23,23,23)" stroke-width="138.00" stroke-linejoin="round" stroke-linecap="round" filter="url(#u1_0)" style="mix-blend-mode:lighten"/>
<path d="M398,1766 C425,1764 452,1745 474,1721" fill="rgb(28,28,28)" stroke="rgb(28,28,28)" stroke-width="136.22" stroke-linejoin="round" stroke-linecap="round" filter="url(#u1_0)" style="mix-blend-mode:lighten"/>
<path d="M398,1766 C425,1764 452,1745 474,1721" fill="rgb(36,36,36)" stroke="rgb(36,36,36)" stroke-width="133.56" stroke-linejoin="round" stroke-linecap="round" filter="url(#u1_5)" style="mix-blend-mode:lighten"/>
<path d="M398,1766 C425,1764 452,1745 474,1721" fill="rgb(43,43,43)" stroke="rgb(43,43,43)" stroke-width="130.89" stroke-linejoin="round" stroke-linecap="round" filter="url(#u1_5)" style="mix-blend-mode:lighten"/>
<path d="M398,1766 C425,1764 452,1745 474,1721" fill="rgb(51,51,51)" stroke="rgb(51,51,51)" stroke-width="128.22" stroke-linejoin="round" stroke-linecap="round" filter="url(#u1_5)" style="mix-blend-mode:lighten"/>
<path d="M398,1766 C425,1764 452,1745 474,1721" fill="rgb(61,61,61)" stroke="rgb(61,61,61)" stroke-width="124.67" stroke-linejoin="round" stroke-linecap="round" filter="url(#u2_0)" style="mix-blend-mode:lighten"/>
<path d="M398,1766 C425,1764 452,1745 474,1721" fill="rgb(71,71,71)" stroke="rgb(71,71,71)" stroke-width="121.11" stroke-linejoin="round" stroke-linecap="round" filter="url(#u2_0)" style="mix-blend-mode:lighten"/>
<path d="M398,1766 C425,1764 452,1745 474,1721" fill="rgb(82,82,82)" stroke="rgb(82,82,82)" stroke-width="117.56" stroke-linejoin="round" stroke-linecap="round" filter="url(#u2_0)" style="mix-blend-mode:lighten"/>
<path d="M398,1766 C425,1764 452,1745 474,1721" fill="rgb(92,92,92)" stroke="rgb(92,92,92)" stroke-width="114.00" stroke-linejoin="round" stroke-linecap="round" filter="url(#u2_0)" style="mix-blend-mode:lighten"/>
<path d="M398,1766 C425,1764 452,1745 474,1721" fill="rgb(102,102,102)" stroke="rgb(102,102,102)" stroke-width="110.44" stroke-linejoin="round" stroke-linecap="round" filter="url(#u2_0)" style="mix-blend-mode:lighten"/>
<path d="M398,1766 C425,1764 452,1745 474,1721" fill="rgb(112,112,112)" stroke="rgb(112,112,112)" stroke-width="106.89" stroke-linejoin="round" stroke-linecap="round" filter="url(#u2_0)" style="mix-blend-mode:lighten"/>
<path d="M398,1766 C425,1764 452,1745 474,1721" fill="rgb(122,122,122)" stroke="rgb(122,122,122)" stroke-width="102.09" stroke-linejoin="round" stroke-linecap="round" filter="url(#u2_5)" style="mix-blend-mode:lighten"/>
<path d="M398,1766 C425,1764 452,1745 474,1721" fill="rgb(133,133,133)" stroke="rgb(133,133,133)" stroke-width="96.88" stroke-linejoin="round" stroke-linecap="round" filter="url(#u2_5)" style="mix-blend-mode:lighten"/>
<path d="M398,1766 C425,1764 452,1745 474,1721" fill="rgb(143,143,143)" stroke="rgb(143,143,143)" stroke-width="91.67" stroke-linejoin="round" stroke-linecap="round" filter="url(#u2_5)" style="mix-blend-mode:lighten"/>
<path d="M398,1766 C425,1764 452,1745 474,1721" fill="rgb(153,153,153)" stroke="rgb(153,153,153)" stroke-width="86.47" stroke-linejoin="round" stroke-linecap="round" filter="url(#u2_5)" style="mix-blend-mode:lighten"/>
<path d="M398,1766 C425,1764 452,1745 474,1721" fill="rgb(163,163,163)" stroke="rgb(163,163,163)" stroke-width="81.26" stroke-linejoin="round" stroke-linecap="round" filter="url(#u3_0)" style="mix-blend-mode:lighten"/>
<path d="M398,1766 C425,1764 452,1745 474,1721" fill="rgb(173,173,173)" stroke="rgb(173,173,173)" stroke-width="75.00" stroke-linejoin="round" stroke-linecap="round" filter="url(#u3_5)" style="mix-blend-mode:lighten"/>
<path d="M398,1766 C425,1764 452,1745 474,1721" fill="rgb(184,184,184)" stroke="rgb(184,184,184)" stroke-width="67.00" stroke-linejoin="round" stroke-linecap="round" filter="url(#u4_0)" style="mix-blend-mode:lighten"/>
<path d="M398,1766 C425,1764 452,1745 474,1721" fill="rgb(194,194,194)" stroke="rgb(194,194,194)" stroke-width="59.04" stroke-linejoin="round" stroke-linecap="round" filter="url(#u4_0)" style="mix-blend-mode:lighten"/>
<path d="M398,1766 C425,1764 452,1745 474,1721" fill="rgb(204,204,204)" stroke="rgb(204,204,204)" stroke-width="51.36" stroke-linejoin="round" stroke-linecap="round" filter="url(#u4_0)" style="mix-blend-mode:lighten"/>
<path d="M398,1766 C425,1764 452,1745 474,1721" fill="rgb(214,214,214)" stroke="rgb(214,214,214)" stroke-width="43.68" stroke-linejoin="round" stroke-linecap="round" filter="url(#u4_0)" style="mix-blend-mode:lighten"/>
<path d="M398,1766 C425,1764 452,1745 474,1721" fill="rgb(224,224,224)" stroke="rgb(224,224,224)" stroke-width="36.00" stroke-linejoin="round" stroke-linecap="round" filter="url(#u7_0)" style="mix-blend-mode:lighten"/>
<path d="M398,1766 C425,1764 452,1745 474,1721" fill="rgb(236,236,236)" stroke="rgb(236,236,236)" stroke-width="16.00" stroke-linejoin="round" stroke-linecap="round" filter="url(#u10_0)" style="mix-blend-mode:lighten"/>
<path d="M470,1726 C488,1706 498,1694 506,1686" fill="rgb(4,4,4)" stroke="rgb(4,4,4)" stroke-width="140.67" stroke-linejoin="round" stroke-linecap="round" filter="url(#u5_5)" style="mix-blend-mode:lighten"/>
<path d="M470,1726 C488,1706 498,1694 506,1686" fill="rgb(8,8,8)" stroke="rgb(8,8,8)" stroke-width="139.33" stroke-linejoin="round" stroke-linecap="round" filter="url(#u1_0)" style="mix-blend-mode:lighten"/>
<path d="M470,1726 C488,1706 498,1694 506,1686" fill="rgb(13,13,13)" stroke="rgb(13,13,13)" stroke-width="137.56" stroke-linejoin="round" stroke-linecap="round" filter="url(#u1_0)" style="mix-blend-mode:lighten"/>
<path d="M470,1726 C488,1706 498,1694 506,1686" fill="rgb(18,18,18)" stroke="rgb(18,18,18)" stroke-width="135.78" stroke-linejoin="round" stroke-linecap="round" filter="url(#u1_0)" style="mix-blend-mode:lighten"/>
<path d="M470,1726 C488,1706 498,1694 506,1686" fill="rgb(23,23,23)" stroke="rgb(23,23,23)" stroke-width="134.00" stroke-linejoin="round" stroke-linecap="round" filter="url(#u1_0)" style="mix-blend-mode:lighten"/>
<path d="M470,1726 C488,1706 498,1694 506,1686" fill="rgb(28,28,28)" stroke="rgb(28,28,28)" stroke-width="132.22" stroke-linejoin="round" stroke-linecap="round" filter="url(#u1_0)" style="mix-blend-mode:lighten"/>
<path d="M470,1726 C488,1706 498,1694 506,1686" fill="rgb(36,36,36)" stroke="rgb(36,36,36)" stroke-width="129.56" stroke-linejoin="round" stroke-linecap="round" filter="url(#u1_5)" style="mix-blend-mode:lighten"/>
<path d="M470,1726 C488,1706 498,1694 506,1686" fill="rgb(43,43,43)" stroke="rgb(43,43,43)" stroke-width="126.89" stroke-linejoin="round" stroke-linecap="round" filter="url(#u1_5)" style="mix-blend-mode:lighten"/>
<path d="M470,1726 C488,1706 498,1694 506,1686" fill="rgb(51,51,51)" stroke="rgb(51,51,51)" stroke-width="124.22" stroke-linejoin="round" stroke-linecap="round" filter="url(#u1_5)" style="mix-blend-mode:lighten"/>
<path d="M470,1726 C488,1706 498,1694 506,1686" fill="rgb(61,61,61)" stroke="rgb(61,61,61)" stroke-width="120.67" stroke-linejoin="round" stroke-linecap="round" filter="url(#u2_0)" style="mix-blend-mode:lighten"/>
<path d="M470,1726 C488,1706 498,1694 506,1686" fill="rgb(71,71,71)" stroke="rgb(71,71,71)" stroke-width="117.11" stroke-linejoin="round" stroke-linecap="round" filter="url(#u2_0)" style="mix-blend-mode:lighten"/>
<path d="M470,1726 C488,1706 498,1694 506,1686" fill="rgb(82,82,82)" stroke="rgb(82,82,82)" stroke-width="113.56" stroke-linejoin="round" stroke-linecap="round" filter="url(#u2_0)" style="mix-blend-mode:lighten"/>
<path d="M470,1726 C488,1706 498,1694 506,1686" fill="rgb(92,92,92)" stroke="rgb(92,92,92)" stroke-width="110.00" stroke-linejoin="round" stroke-linecap="round" filter="url(#u2_0)" style="mix-blend-mode:lighten"/>
<path d="M470,1726 C488,1706 498,1694 506,1686" fill="rgb(102,102,102)" stroke="rgb(102,102,102)" stroke-width="106.44" stroke-linejoin="round" stroke-linecap="round" filter="url(#u2_0)" style="mix-blend-mode:lighten"/>
<path d="M470,1726 C488,1706 498,1694 506,1686" fill="rgb(112,112,112)" stroke="rgb(112,112,112)" stroke-width="102.89" stroke-linejoin="round" stroke-linecap="round" filter="url(#u2_0)" style="mix-blend-mode:lighten"/>
<path d="M470,1726 C488,1706 498,1694 506,1686" fill="rgb(122,122,122)" stroke="rgb(122,122,122)" stroke-width="98.09" stroke-linejoin="round" stroke-linecap="round" filter="url(#u2_5)" style="mix-blend-mode:lighten"/>
<path d="M470,1726 C488,1706 498,1694 506,1686" fill="rgb(133,133,133)" stroke="rgb(133,133,133)" stroke-width="92.88" stroke-linejoin="round" stroke-linecap="round" filter="url(#u2_5)" style="mix-blend-mode:lighten"/>
<path d="M470,1726 C488,1706 498,1694 506,1686" fill="rgb(143,143,143)" stroke="rgb(143,143,143)" stroke-width="87.67" stroke-linejoin="round" stroke-linecap="round" filter="url(#u2_5)" style="mix-blend-mode:lighten"/>
<path d="M470,1726 C488,1706 498,1694 506,1686" fill="rgb(153,153,153)" stroke="rgb(153,153,153)" stroke-width="82.47" stroke-linejoin="round" stroke-linecap="round" filter="url(#u2_5)" style="mix-blend-mode:lighten"/>
<path d="M470,1726 C488,1706 498,1694 506,1686" fill="rgb(163,163,163)" stroke="rgb(163,163,163)" stroke-width="77.26" stroke-linejoin="round" stroke-linecap="round" filter="url(#u3_0)" style="mix-blend-mode:lighten"/>
<path d="M470,1726 C488,1706 498,1694 506,1686" fill="rgb(173,173,173)" stroke="rgb(173,173,173)" stroke-width="71.00" stroke-linejoin="round" stroke-linecap="round" filter="url(#u3_5)" style="mix-blend-mode:lighten"/>
<path d="M470,1726 C488,1706 498,1694 506,1686" fill="rgb(184,184,184)" stroke="rgb(184,184,184)" stroke-width="63.00" stroke-linejoin="round" stroke-linecap="round" filter="url(#u4_0)" style="mix-blend-mode:lighten"/>
<path d="M470,1726 C488,1706 498,1694 506,1686" fill="rgb(194,194,194)" stroke="rgb(194,194,194)" stroke-width="54.59" stroke-linejoin="round" stroke-linecap="round" filter="url(#u5_0)" style="mix-blend-mode:lighten"/>
<path d="M470,1726 C488,1706 498,1694 506,1686" fill="rgb(204,204,204)" stroke="rgb(204,204,204)" stroke-width="43.29" stroke-linejoin="round" stroke-linecap="round" filter="url(#u5_5)" style="mix-blend-mode:lighten"/>
<path d="M470,1726 C488,1706 498,1694 506,1686" fill="rgb(214,214,214)" stroke="rgb(214,214,214)" stroke-width="32.00" stroke-linejoin="round" stroke-linecap="round" filter="url(#u7_5)" style="mix-blend-mode:lighten"/>
<path d="M470,1726 C488,1706 498,1694 506,1686" fill="rgb(222,222,222)" stroke="rgb(222,222,222)" stroke-width="14.00" stroke-linejoin="round" stroke-linecap="round" filter="url(#u9_0)" style="mix-blend-mode:lighten"/>
<defs><radialGradient id="rg2" gradientUnits="userSpaceOnUse" cx="529.5" cy="1842.7" r="140"><stop offset="0.0000" stop-color="rgb(0,0,0)" stop-opacity="1"/><stop offset="0.1357" stop-color="rgb(0,0,0)" stop-opacity="1"/><stop offset="0.1500" stop-color="rgb(28,28,28)" stop-opacity="1"/><stop offset="0.1750" stop-color="rgb(96,96,96)" stop-opacity="1"/><stop offset="0.2000" stop-color="rgb(138,138,138)" stop-opacity="1"/><stop offset="0.2357" stop-color="rgb(193,193,193)" stop-opacity="1"/><stop offset="0.2857" stop-color="rgb(204,204,204)" stop-opacity="1"/><stop offset="0.3571" stop-color="rgb(204,204,204)" stop-opacity="1"/><stop offset="0.4143" stop-color="rgb(193,193,193)" stop-opacity="1"/><stop offset="0.4714" stop-color="rgb(138,138,138)" stop-opacity="1"/><stop offset="0.5214" stop-color="rgb(96,96,96)" stop-opacity="1"/><stop offset="0.6143" stop-color="rgb(28,28,28)" stop-opacity="1"/><stop offset="0.7857" stop-color="rgb(11,11,11)" stop-opacity="1"/><stop offset="1.0000" stop-color="rgb(0,0,0)" stop-opacity="1"/></radialGradient></defs>
<circle cx="529.5" cy="1842.7" r="140" fill="url(#rg2)" style="mix-blend-mode:lighten"/>
<path d="M416,1903 C440,1903 470,1905 490,1928 C505,1945 513,1960 513,1978 C512,2005 500,2025 482,2033 C465,2042 450,2043 440,2043 C415,2043 392,2040 377,2020 C368,2005 368,1990 369,1975 C370,1955 372,1935 385,1918 C395,1907 405,1903 416,1903 Z" fill="rgb(4,4,4)" stroke="rgb(4,4,4)" stroke-width="222.67" stroke-linejoin="round" stroke-linecap="round" filter="url(#u11_0)" style="mix-blend-mode:lighten"/>
<path d="M416,1903 C440,1903 470,1905 490,1928 C505,1945 513,1960 513,1978 C512,2005 500,2025 482,2033 C465,2042 450,2043 440,2043 C415,2043 392,2040 377,2020 C368,2005 368,1990 369,1975 C370,1955 372,1935 385,1918 C395,1907 405,1903 416,1903 Z" fill="rgb(8,8,8)" stroke="rgb(8,8,8)" stroke-width="199.33" stroke-linejoin="round" stroke-linecap="round" filter="url(#u13_0)" style="mix-blend-mode:lighten"/>
<path d="M416,1903 C440,1903 470,1905 490,1928 C505,1945 513,1960 513,1978 C512,2005 500,2025 482,2033 C465,2042 450,2043 440,2043 C415,2043 392,2040 377,2020 C368,2005 368,1990 369,1975 C370,1955 372,1935 385,1918 C395,1907 405,1903 416,1903 Z" fill="rgb(13,13,13)" stroke="rgb(13,13,13)" stroke-width="171.54" stroke-linejoin="round" stroke-linecap="round" filter="url(#u11_5)" style="mix-blend-mode:lighten"/>
<path d="M416,1903 C440,1903 470,1905 490,1928 C505,1945 513,1960 513,1978 C512,2005 500,2025 482,2033 C465,2042 450,2043 440,2043 C415,2043 392,2040 377,2020 C368,2005 368,1990 369,1975 C370,1955 372,1935 385,1918 C395,1907 405,1903 416,1903 Z" fill="rgb(18,18,18)" stroke="rgb(18,18,18)" stroke-width="153.69" stroke-linejoin="round" stroke-linecap="round" filter="url(#u9_0)" style="mix-blend-mode:lighten"/>
<path d="M416,1903 C440,1903 470,1905 490,1928 C505,1945 513,1960 513,1978 C512,2005 500,2025 482,2033 C465,2042 450,2043 440,2043 C415,2043 392,2040 377,2020 C368,2005 368,1990 369,1975 C370,1955 372,1935 385,1918 C395,1907 405,1903 416,1903 Z" fill="rgb(23,23,23)" stroke="rgb(23,23,23)" stroke-width="135.85" stroke-linejoin="round" stroke-linecap="round" filter="url(#u9_0)" style="mix-blend-mode:lighten"/>
<path d="M416,1903 C440,1903 470,1905 490,1928 C505,1945 513,1960 513,1978 C512,2005 500,2025 482,2033 C465,2042 450,2043 440,2043 C415,2043 392,2040 377,2020 C368,2005 368,1990 369,1975 C370,1955 372,1935 385,1918 C395,1907 405,1903 416,1903 Z" fill="rgb(28,28,28)" stroke="rgb(28,28,28)" stroke-width="118.00" stroke-linejoin="round" stroke-linecap="round" filter="url(#u5_5)" style="mix-blend-mode:lighten"/>
<path d="M416,1903 C440,1903 470,1905 490,1928 C505,1945 513,1960 513,1978 C512,2005 500,2025 482,2033 C465,2042 450,2043 440,2043 C415,2043 392,2040 377,2020 C368,2005 368,1990 369,1975 C370,1955 372,1935 385,1918 C395,1907 405,1903 416,1903 Z" fill="rgb(36,36,36)" stroke="rgb(36,36,36)" stroke-width="113.06" stroke-linejoin="round" stroke-linecap="round" filter="url(#u2_5)" style="mix-blend-mode:lighten"/>
<path d="M416,1903 C440,1903 470,1905 490,1928 C505,1945 513,1960 513,1978 C512,2005 500,2025 482,2033 C465,2042 450,2043 440,2043 C415,2043 392,2040 377,2020 C368,2005 368,1990 369,1975 C370,1955 372,1935 385,1918 C395,1907 405,1903 416,1903 Z" fill="rgb(43,43,43)" stroke="rgb(43,43,43)" stroke-width="108.11" stroke-linejoin="round" stroke-linecap="round" filter="url(#u2_5)" style="mix-blend-mode:lighten"/>
<path d="M416,1903 C440,1903 470,1905 490,1928 C505,1945 513,1960 513,1978 C512,2005 500,2025 482,2033 C465,2042 450,2043 440,2043 C415,2043 392,2040 377,2020 C368,2005 368,1990 369,1975 C370,1955 372,1935 385,1918 C395,1907 405,1903 416,1903 Z" fill="rgb(51,51,51)" stroke="rgb(51,51,51)" stroke-width="103.17" stroke-linejoin="round" stroke-linecap="round" filter="url(#u3_0)" style="mix-blend-mode:lighten"/>
<path d="M416,1903 C440,1903 470,1905 490,1928 C505,1945 513,1960 513,1978 C512,2005 500,2025 482,2033 C465,2042 450,2043 440,2043 C415,2043 392,2040 377,2020 C368,2005 368,1990 369,1975 C370,1955 372,1935 385,1918 C395,1907 405,1903 416,1903 Z" fill="rgb(61,61,61)" stroke="rgb(61,61,61)" stroke-width="96.58" stroke-linejoin="round" stroke-linecap="round" filter="url(#u3_5)" style="mix-blend-mode:lighten"/>
<path d="M416,1903 C440,1903 470,1905 490,1928 C505,1945 513,1960 513,1978 C512,2005 500,2025 482,2033 C465,2042 450,2043 440,2043 C415,2043 392,2040 377,2020 C368,2005 368,1990 369,1975 C370,1955 372,1935 385,1918 C395,1907 405,1903 416,1903 Z" fill="rgb(71,71,71)" stroke="rgb(71,71,71)" stroke-width="89.99" stroke-linejoin="round" stroke-linecap="round" filter="url(#u3_5)" style="mix-blend-mode:lighten"/>
<path d="M416,1903 C440,1903 470,1905 490,1928 C505,1945 513,1960 513,1978 C512,2005 500,2025 482,2033 C465,2042 450,2043 440,2043 C415,2043 392,2040 377,2020 C368,2005 368,1990 369,1975 C370,1955 372,1935 385,1918 C395,1907 405,1903 416,1903 Z" fill="rgb(82,82,82)" stroke="rgb(82,82,82)" stroke-width="83.39" stroke-linejoin="round" stroke-linecap="round" filter="url(#u3_5)" style="mix-blend-mode:lighten"/>
<path d="M416,1903 C440,1903 470,1905 490,1928 C505,1945 513,1960 513,1978 C512,2005 500,2025 482,2033 C465,2042 450,2043 440,2043 C415,2043 392,2040 377,2020 C368,2005 368,1990 369,1975 C370,1955 372,1935 385,1918 C395,1907 405,1903 416,1903 Z" fill="rgb(92,92,92)" stroke="rgb(92,92,92)" stroke-width="76.80" stroke-linejoin="round" stroke-linecap="round" filter="url(#u3_0)" style="mix-blend-mode:lighten"/>
<path d="M416,1903 C440,1903 470,1905 490,1928 C505,1945 513,1960 513,1978 C512,2005 500,2025 482,2033 C465,2042 450,2043 440,2043 C415,2043 392,2040 377,2020 C368,2005 368,1990 369,1975 C370,1955 372,1935 385,1918 C395,1907 405,1903 416,1903 Z" fill="rgb(102,102,102)" stroke="rgb(102,102,102)" stroke-width="70.61" stroke-linejoin="round" stroke-linecap="round" filter="url(#u3_0)" style="mix-blend-mode:lighten"/>
<path d="M416,1903 C440,1903 470,1905 490,1928 C505,1945 513,1960 513,1978 C512,2005 500,2025 482,2033 C465,2042 450,2043 440,2043 C415,2043 392,2040 377,2020 C368,2005 368,1990 369,1975 C370,1955 372,1935 385,1918 C395,1907 405,1903 416,1903 Z" fill="rgb(112,112,112)" stroke="rgb(112,112,112)" stroke-width="64.72" stroke-linejoin="round" stroke-linecap="round" filter="url(#u3_0)" style="mix-blend-mode:lighten"/>
<path d="M416,1903 C440,1903 470,1905 490,1928 C505,1945 513,1960 513,1978 C512,2005 500,2025 482,2033 C465,2042 450,2043 440,2043 C415,2043 392,2040 377,2020 C368,2005 368,1990 369,1975 C370,1955 372,1935 385,1918 C395,1907 405,1903 416,1903 Z" fill="rgb(122,122,122)" stroke="rgb(122,122,122)" stroke-width="58.83" stroke-linejoin="round" stroke-linecap="round" filter="url(#u3_0)" style="mix-blend-mode:lighten"/>
<path d="M416,1903 C440,1903 470,1905 490,1928 C505,1945 513,1960 513,1978 C512,2005 500,2025 482,2033 C465,2042 450,2043 440,2043 C415,2043 392,2040 377,2020 C368,2005 368,1990 369,1975 C370,1955 372,1935 385,1918 C395,1907 405,1903 416,1903 Z" fill="rgb(133,133,133)" stroke="rgb(133,133,133)" stroke-width="52.94" stroke-linejoin="round" stroke-linecap="round" filter="url(#u3_0)" style="mix-blend-mode:lighten"/>
<path d="M416,1903 C440,1903 470,1905 490,1928 C505,1945 513,1960 513,1978 C512,2005 500,2025 482,2033 C465,2042 450,2043 440,2043 C415,2043 392,2040 377,2020 C368,2005 368,1990 369,1975 C370,1955 372,1935 385,1918 C395,1907 405,1903 416,1903 Z" fill="rgb(143,143,143)" stroke="rgb(143,143,143)" stroke-width="46.84" stroke-linejoin="round" stroke-linecap="round" filter="url(#u3_0)" style="mix-blend-mode:lighten"/>
<path d="M416,1903 C440,1903 470,1905 490,1928 C505,1945 513,1960 513,1978 C512,2005 500,2025 482,2033 C465,2042 450,2043 440,2043 C415,2043 392,2040 377,2020 C368,2005 368,1990 369,1975 C370,1955 372,1935 385,1918 C395,1907 405,1903 416,1903 Z" fill="rgb(153,153,153)" stroke="rgb(153,153,153)" stroke-width="40.51" stroke-linejoin="round" stroke-linecap="round" filter="url(#u3_0)" style="mix-blend-mode:lighten"/>
<path d="M416,1903 C440,1903 470,1905 490,1928 C505,1945 513,1960 513,1978 C512,2005 500,2025 482,2033 C465,2042 450,2043 440,2043 C415,2043 392,2040 377,2020 C368,2005 368,1990 369,1975 C370,1955 372,1935 385,1918 C395,1907 405,1903 416,1903 Z" fill="rgb(163,163,163)" stroke="rgb(163,163,163)" stroke-width="34.19" stroke-linejoin="round" stroke-linecap="round" filter="url(#u3_0)" style="mix-blend-mode:lighten"/>
<path d="M416,1903 C440,1903 470,1905 490,1928 C505,1945 513,1960 513,1978 C512,2005 500,2025 482,2033 C465,2042 450,2043 440,2043 C415,2043 392,2040 377,2020 C368,2005 368,1990 369,1975 C370,1955 372,1935 385,1918 C395,1907 405,1903 416,1903 Z" fill="rgb(173,173,173)" stroke="rgb(173,173,173)" stroke-width="27.86" stroke-linejoin="round" stroke-linecap="round" filter="url(#u3_0)" style="mix-blend-mode:lighten"/>
<path d="M416,1903 C440,1903 470,1905 490,1928 C505,1945 513,1960 513,1978 C512,2005 500,2025 482,2033 C465,2042 450,2043 440,2043 C415,2043 392,2040 377,2020 C368,2005 368,1990 369,1975 C370,1955 372,1935 385,1918 C395,1907 405,1903 416,1903 Z" fill="rgb(184,184,184)" stroke="rgb(184,184,184)" stroke-width="21.53" stroke-linejoin="round" stroke-linecap="round" filter="url(#u3_0)" style="mix-blend-mode:lighten"/>
<path d="M416,1903 C440,1903 470,1905 490,1928 C505,1945 513,1960 513,1978 C512,2005 500,2025 482,2033 C465,2042 450,2043 440,2043 C415,2043 392,2040 377,2020 C368,2005 368,1990 369,1975 C370,1955 372,1935 385,1918 C395,1907 405,1903 416,1903 Z" fill="rgb(194,194,194)" stroke="rgb(194,194,194)" stroke-width="14.93" stroke-linejoin="round" stroke-linecap="round" filter="url(#u4_0)" style="mix-blend-mode:lighten"/>
<path d="M416,1903 C440,1903 470,1905 490,1928 C505,1945 513,1960 513,1978 C512,2005 500,2025 482,2033 C465,2042 450,2043 440,2043 C415,2043 392,2040 377,2020 C368,2005 368,1990 369,1975 C370,1955 372,1935 385,1918 C395,1907 405,1903 416,1903 Z" fill="rgb(204,204,204)" stroke="rgb(204,204,204)" stroke-width="6.40" stroke-linejoin="round" stroke-linecap="round" filter="url(#u3_5)" style="mix-blend-mode:lighten"/>
<path d="M416,1903 C440,1903 470,1905 490,1928 C505,1945 513,1960 513,1978 C512,2005 500,2025 482,2033 C465,2042 450,2043 440,2043 C415,2043 392,2040 377,2020 C368,2005 368,1990 369,1975 C370,1955 372,1935 385,1918 C395,1907 405,1903 416,1903 Z" fill="rgb(212,212,212)" filter="url(#u5_0)" style="mix-blend-mode:lighten"/>
<defs><radialGradient id="rg3" gradientUnits="userSpaceOnUse" cx="640" cy="1850" r="100"><stop offset="0.0000" stop-color="rgb(26,26,26)" stop-opacity="1"/><stop offset="0.6000" stop-color="rgb(23,23,23)" stop-opacity="1"/><stop offset="1.0000" stop-color="rgb(0,0,0)" stop-opacity="1"/></radialGradient></defs>
<g transform="translate(640 1850) rotate(0) scale(0.6000 1.1000) translate(-640 -1850)"><circle cx="640" cy="1850" r="100" fill="url(#rg3)" style="mix-blend-mode:lighten"/></g>
<defs><radialGradient id="rg4" gradientUnits="userSpaceOnUse" cx="832" cy="1752" r="60"><stop offset="0.0000" stop-color="rgb(69,69,69)" stop-opacity="0.8"/><stop offset="0.3500" stop-color="rgb(69,69,69)" stop-opacity="0.68"/><stop offset="0.7000" stop-color="rgb(69,69,69)" stop-opacity="0.32000000000000006"/><stop offset="1.0000" stop-color="rgb(69,69,69)" stop-opacity="0.0"/></radialGradient></defs>
<circle cx="832" cy="1752" r="60" fill="url(#rg4)"/>
<defs><radialGradient id="rg5" gradientUnits="userSpaceOnUse" cx="830" cy="1952" r="60"><stop offset="0.0000" stop-color="rgb(69,69,69)" stop-opacity="0.8"/><stop offset="0.3500" stop-color="rgb(69,69,69)" stop-opacity="0.68"/><stop offset="0.7000" stop-color="rgb(69,69,69)" stop-opacity="0.32000000000000006"/><stop offset="1.0000" stop-color="rgb(69,69,69)" stop-opacity="0.0"/></radialGradient></defs>
<circle cx="830" cy="1952" r="60" fill="url(#rg5)"/>
<defs><radialGradient id="rg6" gradientUnits="userSpaceOnUse" cx="737.325" cy="1823.1" r="22"><stop offset="0.0000" stop-color="rgb(222,222,222)" stop-opacity="1.0"/><stop offset="0.3500" stop-color="rgb(222,222,222)" stop-opacity="0.85"/><stop offset="0.7000" stop-color="rgb(222,222,222)" stop-opacity="0.4"/><stop offset="1.0000" stop-color="rgb(222,222,222)" stop-opacity="0.0"/></radialGradient></defs>
<g transform="translate(737.325 1823.1) rotate(0) scale(1.0909 0.8182) translate(-737.325 -1823.1)"><circle cx="737.325" cy="1823.1" r="22" fill="url(#rg6)"/></g>
<defs><radialGradient id="rg7" gradientUnits="userSpaceOnUse" cx="737.325" cy="1880.1" r="22"><stop offset="0.0000" stop-color="rgb(222,222,222)" stop-opacity="1.0"/><stop offset="0.3500" stop-color="rgb(222,222,222)" stop-opacity="0.85"/><stop offset="0.7000" stop-color="rgb(222,222,222)" stop-opacity="0.4"/><stop offset="1.0000" stop-color="rgb(222,222,222)" stop-opacity="0.0"/></radialGradient></defs>
<g transform="translate(737.325 1880.1) rotate(0) scale(1.0909 0.8182) translate(-737.325 -1880.1)"><circle cx="737.325" cy="1880.1" r="22" fill="url(#rg7)"/></g>
<defs><radialGradient id="rg8" gradientUnits="userSpaceOnUse" cx="787.675" cy="1823.1" r="22"><stop offset="0.0000" stop-color="rgb(222,222,222)" stop-opacity="1.0"/><stop offset="0.3500" stop-color="rgb(222,222,222)" stop-opacity="0.85"/><stop offset="0.7000" stop-color="rgb(222,222,222)" stop-opacity="0.4"/><stop offset="1.0000" stop-color="rgb(222,222,222)" stop-opacity="0.0"/></radialGradient></defs>
<g transform="translate(787.675 1823.1) rotate(0) scale(1.0909 0.8182) translate(-787.675 -1823.1)"><circle cx="787.675" cy="1823.1" r="22" fill="url(#rg8)"/></g>
<defs><radialGradient id="rg9" gradientUnits="userSpaceOnUse" cx="787.675" cy="1880.1" r="22"><stop offset="0.0000" stop-color="rgb(222,222,222)" stop-opacity="1.0"/><stop offset="0.3500" stop-color="rgb(222,222,222)" stop-opacity="0.85"/><stop offset="0.7000" stop-color="rgb(222,222,222)" stop-opacity="0.4"/><stop offset="1.0000" stop-color="rgb(222,222,222)" stop-opacity="0.0"/></radialGradient></defs>
<g transform="translate(787.675 1880.1) rotate(0) scale(1.0909 0.8182) translate(-787.675 -1880.1)"><circle cx="787.675" cy="1880.1" r="22" fill="url(#rg9)"/></g>
<defs><radialGradient id="rg10" gradientUnits="userSpaceOnUse" cx="392" cy="1642" r="40"><stop offset="0.0000" stop-color="rgb(184,184,184)" stop-opacity="1.0"/><stop offset="0.3500" stop-color="rgb(184,184,184)" stop-opacity="0.85"/><stop offset="0.7000" stop-color="rgb(184,184,184)" stop-opacity="0.4"/><stop offset="1.0000" stop-color="rgb(184,184,184)" stop-opacity="0.0"/></radialGradient></defs>
<circle cx="392" cy="1642" r="40" fill="url(#rg10)"/>
<defs><radialGradient id="rg11" gradientUnits="userSpaceOnUse" cx="556" cy="1808" r="26"><stop offset="0.0000" stop-color="rgb(227,227,227)" stop-opacity="1.0"/><stop offset="0.3500" stop-color="rgb(227,227,227)" stop-opacity="0.85"/><stop offset="0.7000" stop-color="rgb(227,227,227)" stop-opacity="0.4"/><stop offset="1.0000" stop-color="rgb(227,227,227)" stop-opacity="0.0"/></radialGradient></defs>
<g transform="translate(556 1808) rotate(-35) scale(0.8462 1.1538) translate(-556 -1808)"><circle cx="556" cy="1808" r="26" fill="url(#rg11)"/></g>
<defs><radialGradient id="rg12" gradientUnits="userSpaceOnUse" cx="560" cy="1878" r="26"><stop offset="0.0000" stop-color="rgb(227,227,227)" stop-opacity="1.0"/><stop offset="0.3500" stop-color="rgb(227,227,227)" stop-opacity="0.85"/><stop offset="0.7000" stop-color="rgb(227,227,227)" stop-opacity="0.4"/><stop offset="1.0000" stop-color="rgb(227,227,227)" stop-opacity="0.0"/></radialGradient></defs>
<g transform="translate(560 1878) rotate(35) scale(0.8462 1.1538) translate(-560 -1878)"><circle cx="560" cy="1878" r="26" fill="url(#rg12)"/></g>
<defs><radialGradient id="rg13" gradientUnits="userSpaceOnUse" cx="408" cy="2002" r="50"><stop offset="0.0000" stop-color="rgb(232,232,232)" stop-opacity="1.0"/><stop offset="0.3500" stop-color="rgb(232,232,232)" stop-opacity="0.85"/><stop offset="0.7000" stop-color="rgb(232,232,232)" stop-opacity="0.4"/><stop offset="1.0000" stop-color="rgb(232,232,232)" stop-opacity="0.0"/></radialGradient></defs>
<g transform="translate(408 2002) rotate(50) scale(1.0400 0.8400) translate(-408 -2002)"><circle cx="408" cy="2002" r="50" fill="url(#rg13)"/></g>
</g>
<defs><radialGradient id="rg14" gradientUnits="userSpaceOnUse" cx="426.2" cy="1692.8" r="50"><stop offset="0.0000" stop-color="rgb(255,255,255)" stop-opacity="1"/><stop offset="0.3000" stop-color="rgb(255,255,255)" stop-opacity="1"/><stop offset="0.3500" stop-color="rgb(193,193,193)" stop-opacity="1"/><stop offset="0.3700" stop-color="rgb(138,138,138)" stop-opacity="1"/><stop offset="0.3900" stop-color="rgb(96,96,96)" stop-opacity="1"/><stop offset="0.4200" stop-color="rgb(28,28,28)" stop-opacity="1"/><stop offset="0.4600" stop-color="rgb(15,15,15)" stop-opacity="1"/><stop offset="0.6000" stop-color="rgb(15,15,15)" stop-opacity="1"/><stop offset="0.6800" stop-color="rgb(28,28,28)" stop-opacity="1"/><stop offset="0.8000" stop-color="rgb(15,15,15)" stop-opacity="0.49"/><stop offset="0.9000" stop-color="rgb(15,15,15)" stop-opacity="0.226"/><stop offset="1.0000" stop-color="rgb(15,15,15)" stop-opacity="0.0"/></radialGradient></defs>
<circle cx="426.2" cy="1692.8" r="50" fill="url(#rg14)"/>
<defs><radialGradient id="rg15" gradientUnits="userSpaceOnUse" cx="529.5" cy="1842.7" r="21"><stop offset="0.0000" stop-color="rgb(0,0,0)" stop-opacity="1"/><stop offset="0.8810" stop-color="rgb(0,0,0)" stop-opacity="1"/><stop offset="1.0000" stop-color="rgb(0,0,0)" stop-opacity="0.0"/></radialGradient></defs>
<circle cx="529.5" cy="1842.7" r="21" fill="url(#rg15)"/>
<defs><radialGradient id="rg16" gradientUnits="userSpaceOnUse" cx="440.7" cy="1960.7" r="37"><stop offset="0.0000" stop-color="rgb(255,255,255)" stop-opacity="1"/><stop offset="0.2838" stop-color="rgb(255,255,255)" stop-opacity="1"/><stop offset="0.3378" stop-color="rgb(193,193,193)" stop-opacity="1"/><stop offset="0.3649" stop-color="rgb(138,138,138)" stop-opacity="1"/><stop offset="0.3919" stop-color="rgb(96,96,96)" stop-opacity="1"/><stop offset="0.4324" stop-color="rgb(28,28,28)" stop-opacity="1"/><stop offset="0.4865" stop-color="rgb(18,18,18)" stop-opacity="1"/><stop offset="0.6216" stop-color="rgb(18,18,18)" stop-opacity="1"/><stop offset="0.6757" stop-color="rgb(28,28,28)" stop-opacity="1"/><stop offset="0.7568" stop-color="rgb(18,18,18)" stop-opacity="0.606"/><stop offset="0.8108" stop-color="rgb(18,18,18)" stop-opacity="0.397"/><stop offset="0.9189" stop-color="rgb(18,18,18)" stop-opacity="0.122"/><stop offset="1.0000" stop-color="rgb(18,18,18)" stop-opacity="0.0"/></radialGradient></defs>
<circle cx="440.7" cy="1960.7" r="37" fill="url(#rg16)"/>
<defs><radialGradient id="rg17" gradientUnits="userSpaceOnUse" cx="762.5" cy="1851.6" r="26"><stop offset="0.0000" stop-color="rgb(255,255,255)" stop-opacity="1"/><stop offset="0.0577" stop-color="rgb(230,230,230)" stop-opacity="1"/><stop offset="0.1154" stop-color="rgb(178,178,178)" stop-opacity="1"/><stop offset="0.1923" stop-color="rgb(193,193,193)" stop-opacity="1"/><stop offset="0.2692" stop-color="rgb(153,153,153)" stop-opacity="1"/><stop offset="0.3462" stop-color="rgb(115,115,115)" stop-opacity="1"/><stop offset="0.4231" stop-color="rgb(96,96,96)" stop-opacity="1"/><stop offset="0.5000" stop-color="rgb(56,56,56)" stop-opacity="1"/><stop offset="0.5769" stop-color="rgb(38,38,38)" stop-opacity="1"/><stop offset="0.6538" stop-color="rgb(51,51,51)" stop-opacity="1"/><stop offset="0.7115" stop-color="rgb(89,89,89)" stop-opacity="1"/><stop offset="0.7692" stop-color="rgb(41,41,41)" stop-opacity="0.57"/><stop offset="0.8846" stop-color="rgb(41,41,41)" stop-opacity="0.3"/><stop offset="1.0000" stop-color="rgb(41,41,41)" stop-opacity="0.0"/></radialGradient></defs>
<circle cx="762.5" cy="1851.6" r="26" fill="url(#rg17)"/>
</g></g>
<g fill="#fff" font-size="62">
<text transform="translate(358,1655.5) scale(1,1.04)">C</text>
<text transform="translate(531.5,1964.8) scale(1,1.04)">Mo</text>
<text transform="translate(725.5,1964.4) scale(1,1.04)">Co</text>
<text transform="translate(386.5,2037.5) scale(1,1.04)">O1</text>
</g>
<defs><radialGradient id="gMo" cx="0.42" cy="0.42" r="0.66"><stop offset="0" stop-color="#4cb6b8"/><stop offset="0.55" stop-color="#4cb6b8"/><stop offset="1" stop-color="#2a7476"/></radialGradient><radialGradient id="gMoh"><stop offset="0" stop-color="#b4ffff" stop-opacity="1"/><stop offset="0.25" stop-color="#b4ffff" stop-opacity="0.85"/><stop offset="1" stop-color="#b4ffff" stop-opacity="0"/></radialGradient><radialGradient id="gCo" cx="0.42" cy="0.42" r="0.66"><stop offset="0" stop-color="#eba0a4"/><stop offset="0.55" stop-color="#eba0a4"/><stop offset="1" stop-color="#8e5a5e"/></radialGradient><radialGradient id="gCoh"><stop offset="0" stop-color="#ffffff" stop-opacity="1"/><stop offset="0.25" stop-color="#ffffff" stop-opacity="0.85"/><stop offset="1" stop-color="#ffffff" stop-opacity="0"/></radialGradient><radialGradient id="gO" cx="0.42" cy="0.42" r="0.66"><stop offset="0" stop-color="#f27d42"/><stop offset="0.55" stop-color="#f27d42"/><stop offset="1" stop-color="#a84d1e"/></radialGradient><radialGradient id="gOh"><stop offset="0" stop-color="#ffe6a6" stop-opacity="1"/><stop offset="0.25" stop-color="#ffe6a6" stop-opacity="0.85"/><stop offset="1" stop-color="#ffe6a6" stop-opacity="0"/></radialGradient><radialGradient id="gO1" cx="0.42" cy="0.42" r="0.66"><stop offset="0" stop-color="#f20000"/><stop offset="0.55" stop-color="#f20000"/><stop offset="1" stop-color="#960000"/></radialGradient><radialGradient id="gO1h"><stop offset="0" stop-color="#ff8080" stop-opacity="1"/><stop offset="0.25" stop-color="#ff8080" stop-opacity="0.85"/><stop offset="1" stop-color="#ff8080" stop-opacity="0"/></radialGradient><radialGradient id="gC" cx="0.42" cy="0.42" r="0.66"><stop offset="0" stop-color="#767676"/><stop offset="0.55" stop-color="#767676"/><stop offset="1" stop-color="#444444"/></radialGradient><radialGradient id="gCh"><stop offset="0" stop-color="#f8f8f8" stop-opacity="1"/><stop offset="0.25" stop-color="#f8f8f8" stop-opacity="0.85"/><stop offset="1" stop-color="#f8f8f8" stop-opacity="0"/></radialGradient><radialGradient id="gH" cx="0.42" cy="0.42" r="0.66"><stop offset="0" stop-color="#f2f2f2"/><stop offset="0.55" stop-color="#f2f2f2"/><stop offset="1" stop-color="#9a9a9a"/></radialGradient><radialGradient id="gHh"><stop offset="0" stop-color="#ffffff" stop-opacity="1"/><stop offset="0.25" stop-color="#ffffff" stop-opacity="0.85"/><stop offset="1" stop-color="#ffffff" stop-opacity="0"/></radialGradient></defs>
<defs><filter id="bhl" x="-10%" y="-10%" width="120%" height="120%"><feGaussianBlur stdDeviation="1.2"/></filter></defs>
<line x1="1589.5" y1="1698.8" x2="1735.3" y2="1817.0" stroke="#000" stroke-width="16.5" stroke-linecap="round"/>
<line x1="1590.7" y1="1697.3" x2="1736.5" y2="1815.5" stroke="#5a5a5a" stroke-width="2.6" filter="url(#bhl)"/>
<line x1="1308.6" y1="1588.4" x2="1336.0" y2="1707.9" stroke="#000" stroke-width="19" stroke-linecap="round"/>
<line x1="1306.4" y1="1588.9" x2="1333.8" y2="1708.4" stroke="#5a5a5a" stroke-width="3.0" filter="url(#bhl)"/>
<circle cx="1589.5" cy="1698.8" r="30" fill="url(#gO)" stroke="#111" stroke-width="1.3"/>
<circle cx="1582.9" cy="1694.9" r="10.2" fill="url(#gOh)"/>
<path d="M1591.9,1669.2 A12.0,29.6 0 0 1 1591.9,1728.3" fill="none" stroke="#1a1a1a" stroke-width="1.1"/>
<path d="M1559.8,1701.8 A29.7,11.4 0 0 0 1619.2,1701.8" fill="none" stroke="#1a1a1a" stroke-width="1.1"/>
<circle cx="1349.1" cy="1890.4" r="29.7" fill="url(#gO1)" stroke="#111" stroke-width="1.3"/>
<circle cx="1342.6" cy="1886.5" r="10.1" fill="url(#gO1h)"/>
<path d="M1351.5,1861.1 A11.9,29.3 0 0 1 1351.5,1919.7" fill="none" stroke="#1a1a1a" stroke-width="1.1"/>
<path d="M1319.7,1893.4 A29.4,11.3 0 0 0 1378.5,1893.4" fill="none" stroke="#1a1a1a" stroke-width="1.1"/>
<circle cx="1735.3" cy="1817" r="47.3" fill="url(#gCo)" stroke="#111" stroke-width="1.3"/>
<circle cx="1724.9" cy="1810.9" r="16.1" fill="url(#gCoh)"/>
<path d="M1739.1,1770.4 A18.9,46.6 0 0 1 1739.1,1863.6" fill="none" stroke="#1a1a1a" stroke-width="1.1"/>
<path d="M1688.5,1821.7 A46.8,18.0 0 0 0 1782.1,1821.7" fill="none" stroke="#1a1a1a" stroke-width="1.1"/>
<line x1="1457.6" y1="1807.4" x2="1568.7" y2="1716.0" stroke="#000" stroke-width="20" stroke-linecap="round"/>
<line x1="1457.6" y1="1807.4" x2="1366.1" y2="1877.4" stroke="#000" stroke-width="17" stroke-linecap="round"/>
<line x1="1594.0" y1="1927.3" x2="1704.7" y2="1840.9" stroke="#000" stroke-width="20" stroke-linecap="round"/>
<circle cx="1457.6" cy="1807.4" r="53" fill="url(#gMo)" stroke="#111" stroke-width="1.3"/>
<circle cx="1445.9" cy="1800.5" r="18.0" fill="url(#gMoh)"/>
<path d="M1461.8,1755.2 A21.2,52.2 0 0 1 1461.8,1859.6" fill="none" stroke="#1a1a1a" stroke-width="1.1"/>
<path d="M1405.1,1812.7 A52.5,20.1 0 0 0 1510.1,1812.7" fill="none" stroke="#1a1a1a" stroke-width="1.1"/>
<line x1="1336.0" y1="1707.9" x2="1429.3" y2="1784.2" stroke="#000" stroke-width="20" stroke-linecap="round"/>
<line x1="1594.0" y1="1927.3" x2="1491.0" y2="1836.8" stroke="#000" stroke-width="16.5" stroke-linecap="round"/>
<line x1="1595.3" y1="1925.8" x2="1492.3" y2="1835.3" stroke="#5a5a5a" stroke-width="2.6" filter="url(#bhl)"/>
<circle cx="1336" cy="1707.9" r="32" fill="url(#gC)" stroke="#111" stroke-width="1.3"/>
<circle cx="1329.0" cy="1703.7" r="10.9" fill="url(#gCh)"/>
<path d="M1338.6,1676.4 A12.8,31.5 0 0 1 1338.6,1739.4" fill="none" stroke="#1a1a1a" stroke-width="1.1"/>
<path d="M1304.3,1711.1 A31.7,12.2 0 0 0 1367.7,1711.1" fill="none" stroke="#1a1a1a" stroke-width="1.1"/>
<circle cx="1594" cy="1927.3" r="30" fill="url(#gO)" stroke="#111" stroke-width="1.3"/>
<circle cx="1587.4" cy="1923.4" r="10.2" fill="url(#gOh)"/>
<path d="M1596.4,1897.8 A12.0,29.6 0 0 1 1596.4,1956.8" fill="none" stroke="#1a1a1a" stroke-width="1.1"/>
<path d="M1564.3,1930.3 A29.7,11.4 0 0 0 1623.7,1930.3" fill="none" stroke="#1a1a1a" stroke-width="1.1"/>
<circle cx="1308.6" cy="1588.4" r="16.5" fill="url(#gH)" stroke="#111" stroke-width="1.3"/>
<circle cx="1305.0" cy="1586.3" r="5.6" fill="url(#gHh)"/>
<path d="M1309.9,1572.1 A6.6,16.3 0 0 1 1309.9,1604.7" fill="none" stroke="#1a1a1a" stroke-width="1.1"/>
<path d="M1292.3,1590.1 A16.3,6.3 0 0 0 1324.9,1590.1" fill="none" stroke="#1a1a1a" stroke-width="1.1"/>
<line x1="1285.4" y1="1772.8" x2="1323.2" y2="1724.3" stroke="#000" stroke-width="20" stroke-linecap="round"/>
<circle cx="1285.4" cy="1772.8" r="17" fill="url(#gH)" stroke="#111" stroke-width="1.3"/>
<circle cx="1281.7" cy="1770.6" r="5.8" fill="url(#gHh)"/>
<path d="M1286.8,1756.1 A6.8,16.7 0 0 1 1286.8,1789.5" fill="none" stroke="#1a1a1a" stroke-width="1.1"/>
<path d="M1268.6,1774.5 A16.8,6.5 0 0 0 1302.2,1774.5" fill="none" stroke="#1a1a1a" stroke-width="1.1"/>
<text transform="translate(1242,2016.9) scale(1,1.04)" font-size="75">O1</text>
<text transform="translate(1545.2,2048.6) scale(1,1.04)" font-size="75">O2</text>
<text transform="translate(1545.2,1639.8) scale(1,1.04)" font-size="75">O3</text>
<defs><filter id="b1" x="-100%" y="-100%" width="300%" height="300%" color-interpolation-filters="sRGB"><feGaussianBlur stdDeviation="1"/></filter><filter id="b2" x="-100%" y="-100%" width="300%" height="300%" color-interpolation-filters="sRGB"><feGaussianBlur stdDeviation="2"/></filter><filter id="b3" x="-100%" y="-100%" width="300%" height="300%" color-interpolation-filters="sRGB"><feGaussianBlur stdDeviation="3"/></filter><filter id="b4" x="-100%" y="-100%" width="300%" height="300%" color-interpolation-filters="sRGB"><feGaussianBlur stdDeviation="4"/></filter><filter id="b5" x="-100%" y="-100%" width="300%" height="300%" color-interpolation-filters="sRGB"><feGaussianBlur stdDeviation="5"/></filter><filter id="b6" x="-100%" y="-100%" width="300%" height="300%" color-interpolation-filters="sRGB"><feGaussianBlur stdDeviation="6"/></filter><filter id="b8" x="-100%" y="-100%" width="300%" height="300%" color-interpolation-filters="sRGB"><feGaussianBlur stdDeviation="8"/></filter><filter id="b10" x="-100%" y="-100%" width="300%" height="300%" color-interpolation-filters="sRGB"><feGaussianBlur stdDeviation="10"/></filter><filter id="b12" x="-100%" y="-100%" width="300%" height="300%" color-interpolation-filters="sRGB"><feGaussianBlur stdDeviation="12"/></filter><filter id="b15" x="-100%" y="-100%" width="300%" height="300%" color-interpolation-filters="sRGB"><feGaussianBlur stdDeviation="15"/></filter><filter id="b18" x="-100%" y="-100%" width="300%" height="300%" color-interpolation-filters="sRGB"><feGaussianBlur stdDeviation="18"/></filter><filter id="b20" x="-100%" y="-100%" width="300%" height="300%" color-interpolation-filters="sRGB"><feGaussianBlur stdDeviation="20"/></filter><filter id="b25" x="-100%" y="-100%" width="300%" height="300%" color-interpolation-filters="sRGB"><feGaussianBlur stdDeviation="25"/></filter><filter id="b30" x="-100%" y="-100%" width="300%" height="300%" color-interpolation-filters="sRGB"><feGaussianBlur stdDeviation="30"/></filter><filter id="b40" x="-100%" y="-100%" width="300%" height="300%" color-interpolation-filters="sRGB"><feGaussianBlur stdDeviation="40"/></filter><filter id="u13_0" filterUnits="userSpaceOnUse" x="150" y="1400" width="900" height="850" color-interpolation-filters="sRGB"><feGaussianBlur stdDeviation="13.0"/></filter><filter id="u15_0" filterUnits="userSpaceOnUse" x="150" y="1400" width="900" height="850" color-interpolation-filters="sRGB"><feGaussianBlur stdDeviation="15.0"/></filter><filter id="u9_0" filterUnits="userSpaceOnUse" x="150" y="1400" width="900" height="850" color-interpolation-filters="sRGB"><feGaussianBlur stdDeviation="9.0"/></filter><filter id="u10_0" filterUnits="userSpaceOnUse" x="150" y="1400" width="900" height="850" color-interpolation-filters="sRGB"><feGaussianBlur stdDeviation="10.0"/></filter><filter id="u12_0" filterUnits="userSpaceOnUse" x="150" y="1400" width="900" height="850" color-interpolation-filters="sRGB"><feGaussianBlur stdDeviation="12.0"/></filter><filter id="u13_5" filterUnits="userSpaceOnUse" x="150" y="1400" width="900" height="850" color-interpolation-filters="sRGB"><feGaussianBlur stdDeviation="13.5"/></filter><filter id="u8_5" filterUnits="userSpaceOnUse" x="150" y="1400" width="900" height="850" color-interpolation-filters="sRGB"><feGaussianBlur stdDeviation="8.5"/></filter><filter id="u6_0" filterUnits="userSpaceOnUse" x="150" y="1400" width="900" height="850" color-interpolation-filters="sRGB"><feGaussianBlur stdDeviation="6.0"/></filter><filter id="u4_5" filterUnits="userSpaceOnUse" x="150" y="1400" width="900" height="850" color-interpolation-filters="sRGB"><feGaussianBlur stdDeviation="4.5"/></filter><filter id="u5_5" filterUnits="userSpaceOnUse" x="150" y="1400" width="900" height="850" color-interpolation-filters="sRGB"><feGaussianBlur stdDeviation="5.5"/></filter><filter id="u7_0" filterUnits="userSpaceOnUse" x="150" y="1400" width="900" height="850" color-interpolation-filters="sRGB"><feGaussianBlur stdDeviation="7.0"/></filter><filter id="u6_5" filterUnits="userSpaceOnUse" x="150" y="1400" width="900" height="850" color-interpolation-filters="sRGB"><feGaussianBlur stdDeviation="6.5"/></filter><filter id="u5_0" filterUnits="userSpaceOnUse" x="150" y="1400" width="900" height="850" color-interpolation-filters="sRGB"><feGaussianBlur stdDeviation="5.0"/></filter><filter id="u4_0" filterUnits="userSpaceOnUse" x="150" y="1400" width="900" height="850" color-interpolation-filters="sRGB"><feGaussianBlur stdDeviation="4.0"/></filter><filter id="u2_5" filterUnits="userSpaceOnUse" x="150" y="1400" width="900" height="850" color-interpolation-filters="sRGB"><feGaussianBlur stdDeviation="2.5"/></filter><filter id="u1_5" filterUnits="userSpaceOnUse" x="150" y="1400" width="900" height="850" color-interpolation-filters="sRGB"><feGaussianBlur stdDeviation="1.5"/></filter><filter id="u2_0" filterUnits="userSpaceOnUse" x="150" y="1400" width="900" height="850" color-interpolation-filters="sRGB"><feGaussianBlur stdDeviation="2.0"/></filter><filter id="u10_5" filterUnits="userSpaceOnUse" x="150" y="1400" width="900" height="850" color-interpolation-filters="sRGB"><feGaussianBlur stdDeviation="10.5"/></filter><filter id="u1_0" filterUnits="userSpaceOnUse" x="150" y="1400" width="900" height="850" color-interpolation-filters="sRGB"><feGaussianBlur stdDeviation="1.0"/></filter><filter id="u3_0" filterUnits="userSpaceOnUse" x="150" y="1400" width="900" height="850" color-interpolation-filters="sRGB"><feGaussianBlur stdDeviation="3.0"/></filter><filter id="u3_5" filterUnits="userSpaceOnUse" x="150" y="1400" width="900" height="850" color-interpolation-filters="sRGB"><feGaussianBlur stdDeviation="3.5"/></filter><filter id="u7_5" filterUnits="userSpaceOnUse" x="150" y="1400" width="900" height="850" color-interpolation-filters="sRGB"><feGaussianBlur stdDeviation="7.5"/></filter><filter id="u11_0" filterUnits="userSpaceOnUse" x="150" y="1400" width="900" height="850" color-interpolation-filters="sRGB"><feGaussianBlur stdDeviation="11.0"/></filter><filter id="u11_5" filterUnits="userSpaceOnUse" x="150" y="1400" width="900" height="850" color-interpolation-filters="sRGB"><feGaussianBlur stdDeviation="11.5"/></filter><filter id="cm" x="0" y="0" width="100%" height="100%" color-interpolation-filters="sRGB"><feComponentTransfer><feFuncR type="table" tableValues="0.1412 0.1602 0.1793 0.1904 0.1433 0.0962 0.0490 0.0019 0.0000 0.0000 0.0000 0.0000 0.0000 0.0000 0.0000 0.0000 0.0000 0.0000 0.0000 0.0000 0.0000 0.0000 0.0000 0.0000 0.0000 0.0000 0.0000 0.0000 0.0000 0.0000 0.0000 0.0000 0.0000 0.0000 0.0000 0.0275 0.1005 0.1735 0.2465 0.3195 0.3925 0.4655 0.5386 0.6116 0.6846 0.7576 0.8306 0.9036 0.9766 1.0000 1.0000 1.0000 1.0000 1.0000 1.0000 1.0000 1.0000 1.0000 1.0000 1.0000 1.0000 1.0000 1.0000 1.0000 1.0000"/><feFuncG type="table" tableValues="0.0000 0.0000 0.0000 0.0000 0.0000 0.0000 0.0000 0.0000 0.0562 0.1147 0.1732 0.2317 0.2903 0.3488 0.4073 0.4658 0.5243 0.5829 0.6414 0.6999 0.7584 0.8169 0.8755 0.9340 0.9925 1.0000 1.0000 1.0000 1.0000 1.0000 1.0000 1.0000 1.0000 1.0000 1.0000 1.0000 1.0000 1.0000 1.0000 1.0000 1.0000 1.0000 1.0000 1.0000 1.0000 1.0000 1.0000 1.0000 1.0000 0.9566 0.8929 0.8291 0.7653 0.7015 0.6378 0.5740 0.5102 0.4464 0.3827 0.3189 0.2551 0.1913 0.1276 0.0638 0.0000"/><feFuncB type="table" tableValues="0.2745 0.3903 0.5060 0.6192 0.7134 0.8077 0.9020 0.9962 1.0000 1.0000 1.0000 1.0000 1.0000 1.0000 1.0000 1.0000 1.0000 1.0000 1.0000 1.0000 1.0000 1.0000 1.0000 1.0000 1.0000 0.9169 0.8216 0.7264 0.6311 0.5358 0.4405 0.3453 0.2500 0.1547 0.0595 0.0000 0.0000 0.0000 0.0000 0.0000 0.0000 0.0000 0.0000 0.0000 0.0000 0.0000 0.0000 0.0000 0.0000 0.0000 0.0000 0.0000 0.0000 0.0000 0.0000 0.0000 0.0000 0.0000 0.0000 0.0000 0.0000 0.0000 0.0000 0.0000 0.0000"/><feFuncA type="identity"/></feComponentTransfer></filter></defs>
</svg></body></html>
